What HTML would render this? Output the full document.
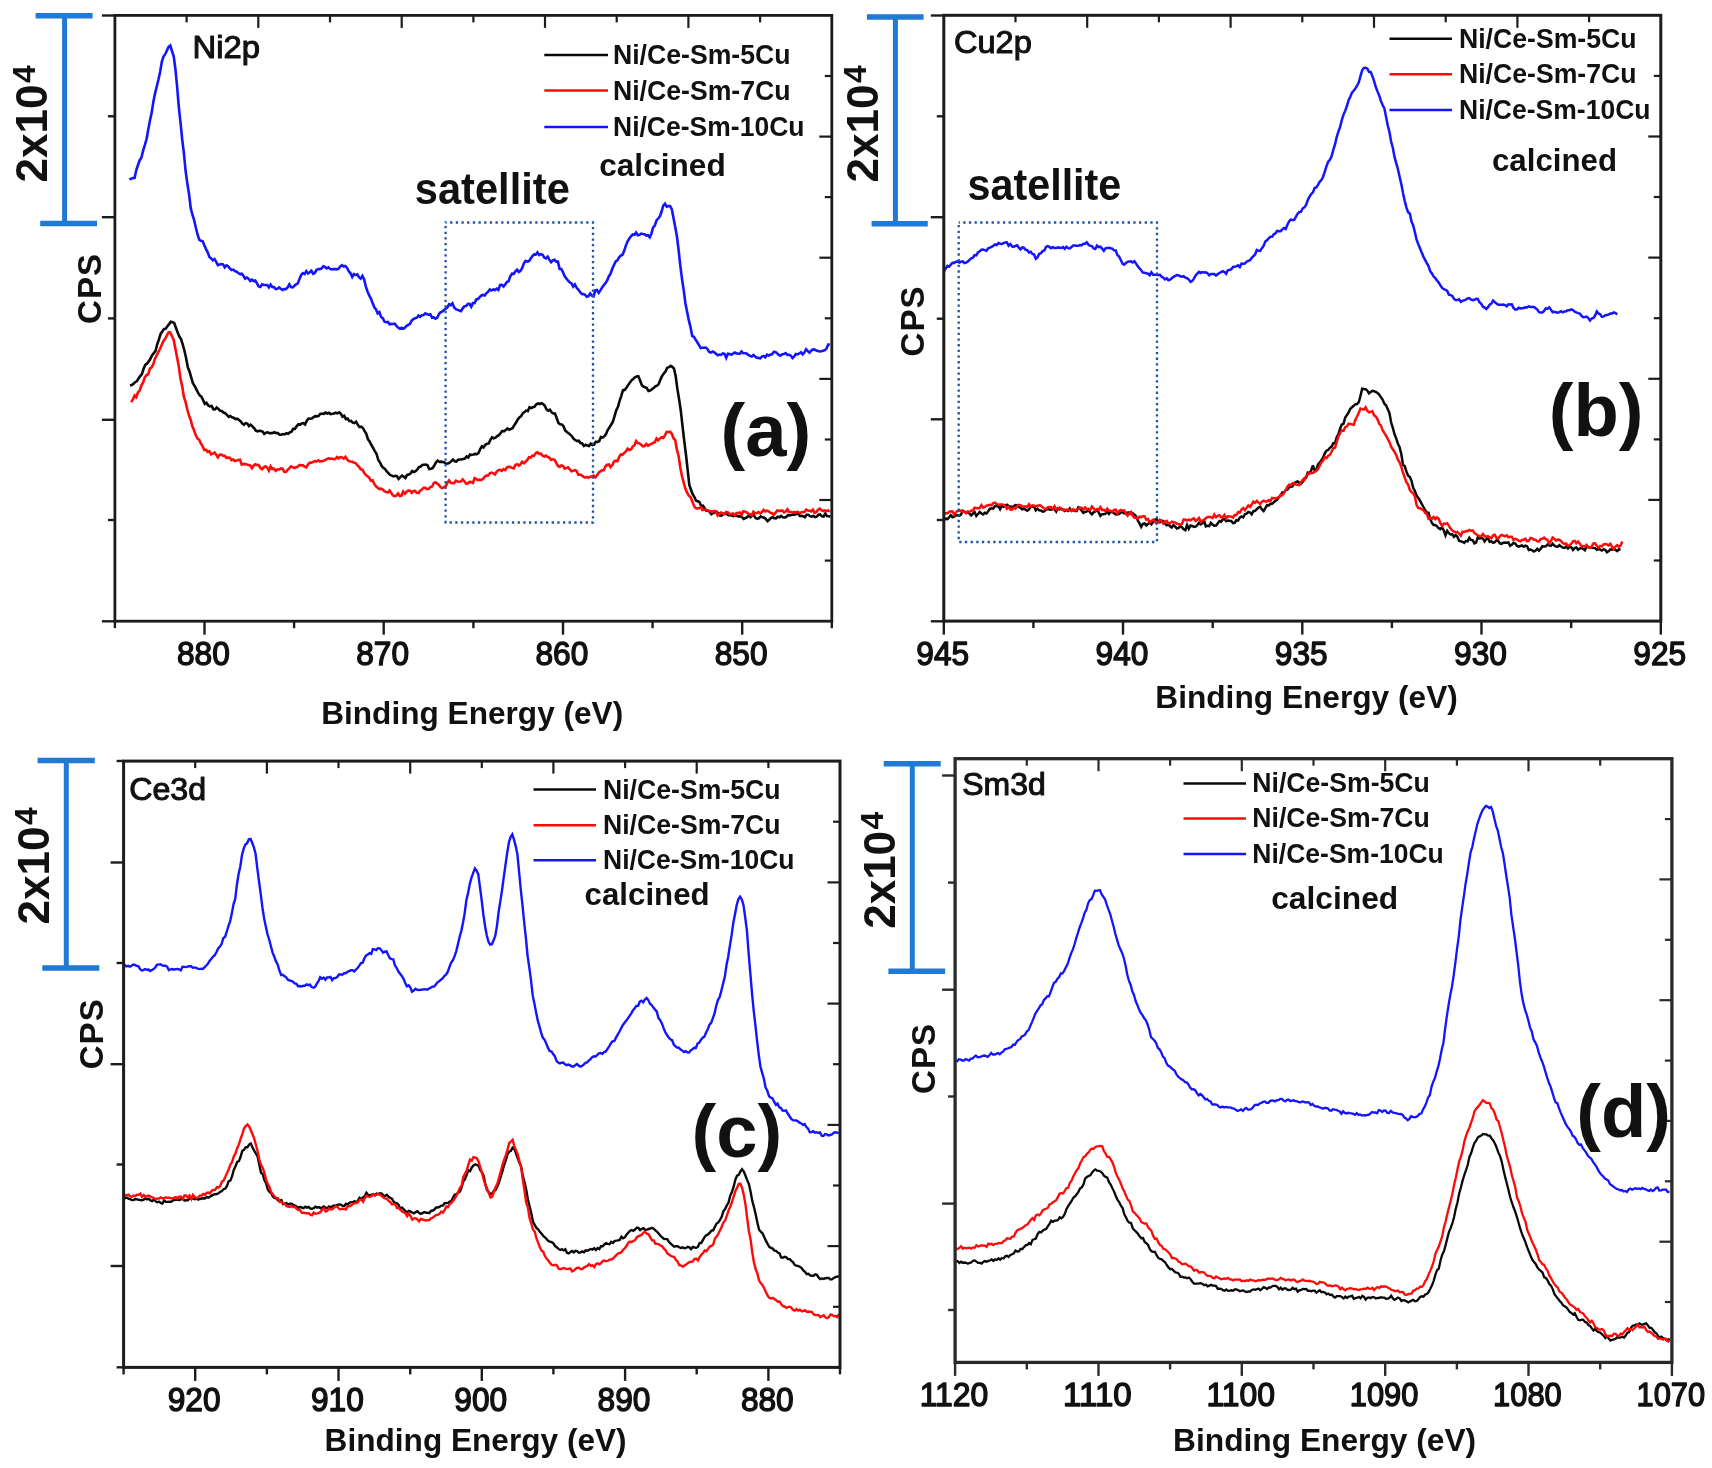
<!DOCTYPE html>
<html lang="en">
<head>
<meta charset="utf-8">
<title>XPS spectra: Ni2p, Cu2p, Ce3d, Sm3d</title>
<style>
html,body{margin:0;padding:0;background:#fff;}
body{width:1712px;height:1468px;overflow:hidden;}
svg{display:block;filter:blur(0.65px);}
svg text{font-family:"Liberation Sans",sans-serif;font-weight:700;fill:#111;}
svg text.m{font-weight:400;stroke:#111;stroke-width:1.05px;stroke-linejoin:round;}
svg text.t{stroke-width:1.4px;}
</style>
</head>
<body>
<svg width="1712" height="1468" viewBox="0 0 1712 1468">
<rect x="0" y="0" width="1712" height="1468" fill="#ffffff"/>
<polyline fill="none" stroke="#0a0a0a" stroke-width="2.6" stroke-linejoin="miter" stroke-miterlimit="3" points="130.0,385.5 131.7,385.1 133.4,383.9 135.1,382.2 136.8,381.3 138.5,378.5 140.2,376.1 141.9,374.2 143.6,368.8 145.3,364.9 147.0,363.5 148.7,361.4 150.4,358.8 152.1,355.2 153.8,353.1 155.5,351.0 157.2,344.3 158.9,339.5 160.6,333.9 162.3,331.4 164.0,329.0 165.7,328.8 167.4,326.2 169.1,324.1 170.8,321.7 172.5,322.2 174.2,322.9 175.9,327.7 177.6,332.4 179.3,336.6 181.0,339.0 182.7,344.4 184.4,350.5 186.1,357.9 187.8,367.1 189.5,371.5 191.2,377.3 192.9,383.3 194.6,385.8 196.3,389.2 198.0,392.6 199.7,395.4 201.4,396.6 203.1,400.1 204.8,403.9 206.5,402.8 208.2,405.4 209.9,406.3 211.6,406.0 213.3,409.2 215.0,409.4 216.7,407.5 218.4,408.9 220.1,410.7 221.8,411.0 223.5,412.6 225.2,413.2 226.9,414.8 228.6,416.9 230.3,416.0 232.0,417.2 233.7,417.7 235.4,419.0 237.1,418.7 238.8,419.8 240.5,421.2 242.2,423.4 243.9,424.8 245.6,423.1 247.3,423.6 249.0,426.1 250.7,424.7 252.4,426.3 254.1,428.1 255.8,430.6 257.5,431.3 259.2,430.8 260.9,431.0 262.6,431.6 264.3,433.9 266.0,432.7 267.7,432.3 269.4,433.2 271.1,433.1 272.8,433.0 274.5,432.2 276.2,433.1 277.9,433.1 279.6,434.7 281.3,434.8 283.0,434.0 284.7,434.4 286.4,433.2 288.1,433.8 289.8,432.4 291.5,431.7 293.2,428.9 294.9,428.9 296.6,426.3 298.3,424.3 300.0,424.8 301.7,423.5 303.4,423.1 305.1,424.4 306.8,420.6 308.5,418.6 310.2,418.7 311.9,418.5 313.6,417.1 315.3,416.1 317.0,416.4 318.7,415.9 320.4,413.7 322.1,413.7 323.8,413.9 325.5,412.6 327.2,413.5 328.9,412.7 330.6,414.1 332.3,413.8 334.0,413.4 335.7,412.7 337.4,413.4 339.1,412.4 340.8,413.6 342.5,416.7 344.2,415.8 345.9,419.2 347.6,418.5 349.3,421.0 351.0,420.8 352.7,422.6 354.4,423.0 356.1,421.7 357.8,424.8 359.5,427.0 361.2,426.7 362.9,428.0 364.6,431.2 366.3,433.9 368.0,439.3 369.7,441.6 371.4,445.0 373.1,447.8 374.8,451.1 376.5,453.7 378.2,459.7 379.9,462.3 381.6,465.9 383.3,467.8 385.0,469.0 386.7,471.4 388.4,473.1 390.1,474.9 391.8,475.6 393.5,476.4 395.2,475.8 396.9,476.2 398.6,478.9 400.3,477.1 402.0,475.7 403.7,476.7 405.4,478.0 407.1,475.0 408.8,474.6 410.5,473.6 412.2,471.1 413.9,472.1 415.6,471.1 417.3,469.5 419.0,467.0 420.7,466.5 422.4,464.9 424.1,464.7 425.8,464.5 427.5,465.2 429.2,469.0 430.9,468.7 432.6,468.1 434.3,465.6 436.0,462.3 437.7,460.6 439.4,461.8 441.1,461.6 442.8,461.9 444.5,462.4 446.2,463.7 447.9,463.5 449.6,462.7 451.3,461.2 453.0,459.6 454.7,461.2 456.4,461.5 458.1,459.7 459.8,459.5 461.5,459.4 463.2,459.0 464.9,458.5 466.6,456.5 468.3,457.4 470.0,454.5 471.7,454.9 473.4,454.5 475.1,453.9 476.8,454.2 478.5,453.2 480.2,449.1 481.9,446.3 483.6,447.4 485.3,444.8 487.0,443.7 488.7,443.6 490.4,439.9 492.1,437.2 493.8,438.3 495.5,437.7 497.2,436.0 498.9,435.1 500.6,433.1 502.3,431.0 504.0,431.3 505.7,430.1 507.4,428.4 509.1,429.7 510.8,429.0 512.5,428.3 514.2,425.4 515.9,422.8 517.6,419.8 519.3,417.4 521.0,416.3 522.7,413.4 524.4,412.1 526.1,410.6 527.8,411.1 529.5,407.3 531.2,408.0 532.9,407.3 534.6,406.6 536.3,404.3 538.0,403.5 539.7,404.0 541.4,403.2 543.1,404.1 544.8,405.7 546.5,409.3 548.2,410.6 549.9,409.7 551.6,412.4 553.3,413.5 555.0,413.6 556.7,418.0 558.4,422.9 560.1,424.2 561.8,424.4 563.5,426.2 565.2,430.4 566.9,432.0 568.6,433.2 570.3,434.7 572.0,436.4 573.7,438.8 575.4,440.2 577.1,441.1 578.8,440.7 580.5,443.1 582.2,443.5 583.9,446.0 585.6,444.8 587.3,445.6 589.0,446.0 590.7,443.7 592.4,445.1 594.1,444.7 595.8,441.9 597.5,441.9 599.2,441.3 600.9,437.1 602.6,437.6 604.3,436.4 606.0,434.1 607.7,430.1 609.4,427.6 611.1,424.7 612.8,422.0 614.5,416.4 616.2,410.3 617.9,407.1 619.6,400.8 621.3,395.8 623.0,390.1 624.7,389.9 626.4,387.8 628.1,385.1 629.8,382.7 631.5,380.3 633.2,378.9 634.9,377.3 636.6,376.4 638.3,376.2 640.0,380.3 641.7,384.9 643.4,386.7 645.1,387.3 646.8,388.0 648.5,390.9 650.2,390.5 651.9,389.3 653.6,388.1 655.3,386.3 657.0,385.6 658.7,384.1 660.4,379.6 662.1,376.0 663.8,373.5 665.5,371.5 667.2,367.8 668.9,367.2 670.6,365.9 672.3,366.9 674.0,368.6 675.7,376.3 677.4,389.0 679.1,399.2 680.8,410.7 682.5,425.8 684.2,440.6 685.9,454.0 687.6,469.3 689.3,484.9 691.0,489.8 692.7,494.2 694.4,497.0 696.1,500.7 697.8,501.3 699.5,502.2 701.2,506.0 702.9,505.7 704.6,508.3 706.3,510.7 708.0,510.7 709.7,511.7 711.4,514.2 713.1,513.0 714.8,512.3 716.5,511.7 718.2,513.2 719.9,515.5 721.6,515.7 723.3,513.8 725.0,513.4 726.7,514.0 728.4,515.2 730.1,515.1 731.8,515.6 733.5,516.1 735.2,515.6 736.9,515.9 738.6,516.4 740.3,516.4 742.0,517.1 743.7,518.9 745.4,518.1 747.1,517.3 748.8,515.4 750.5,517.1 752.2,515.5 753.9,515.4 755.6,518.1 757.3,518.9 759.0,518.1 760.7,516.3 762.4,517.3 764.1,517.6 765.8,518.9 767.5,521.2 769.2,519.7 770.9,518.0 772.6,517.2 774.3,518.2 776.0,518.3 777.7,516.8 779.4,517.3 781.1,515.9 782.8,517.3 784.5,517.5 786.2,517.1 787.9,515.1 789.6,515.4 791.3,515.0 793.0,514.6 794.7,514.7 796.4,513.8 798.1,513.5 799.8,516.0 801.5,515.9 803.2,516.2 804.9,517.3 806.6,514.8 808.3,514.8 810.0,516.2 811.7,516.7 813.4,515.9 815.1,517.1 816.8,516.7 818.5,514.8 820.2,514.5 821.9,516.3 823.6,516.5 825.3,513.7 827.0,516.1 828.7,516.3 830.4,516.6"/>
<polyline fill="none" stroke="#ff0a0a" stroke-width="2.6" stroke-linejoin="miter" stroke-miterlimit="3" points="131.2,402.2 132.9,399.3 134.6,395.5 136.3,397.2 138.0,392.3 139.7,390.6 141.4,385.4 143.1,382.5 144.8,377.3 146.5,375.1 148.2,374.3 149.9,368.6 151.6,367.4 153.3,364.2 155.0,358.7 156.7,355.3 158.4,351.9 160.1,348.8 161.8,344.8 163.5,341.0 165.2,338.9 166.9,335.4 168.6,332.3 170.3,332.4 172.0,336.3 173.7,339.9 175.4,348.7 177.1,357.5 178.8,366.6 180.5,378.7 182.2,386.2 183.9,397.0 185.6,402.1 187.3,409.5 189.0,415.4 190.7,420.0 192.4,426.6 194.1,430.6 195.8,435.3 197.5,438.4 199.2,439.9 200.9,443.3 202.6,446.4 204.3,449.9 206.0,449.9 207.7,451.9 209.4,451.3 211.1,454.3 212.8,453.7 214.5,452.5 216.2,454.8 217.9,457.4 219.6,454.8 221.3,454.6 223.0,455.6 224.7,455.7 226.4,457.9 228.1,457.6 229.8,457.8 231.5,460.1 233.2,459.5 234.9,461.1 236.6,460.4 238.3,460.0 240.0,459.7 241.7,464.6 243.4,463.9 245.1,464.1 246.8,464.5 248.5,465.1 250.2,465.5 251.9,468.2 253.6,465.7 255.3,464.2 257.0,465.0 258.7,465.1 260.4,468.0 262.1,469.2 263.8,467.3 265.5,466.3 267.2,467.7 268.9,470.7 270.6,466.3 272.3,469.0 274.0,468.7 275.7,470.9 277.4,469.3 279.1,469.5 280.8,468.4 282.5,468.6 284.2,471.8 285.9,472.0 287.6,469.9 289.3,468.4 291.0,466.4 292.7,467.3 294.4,467.8 296.1,467.3 297.8,466.7 299.5,464.9 301.2,465.4 302.9,465.4 304.6,466.6 306.3,467.4 308.0,464.6 309.7,462.5 311.4,462.7 313.1,461.9 314.8,461.1 316.5,461.5 318.2,460.3 319.9,461.6 321.6,461.1 323.3,461.0 325.0,460.2 326.7,459.1 328.4,458.3 330.1,458.8 331.8,458.5 333.5,459.2 335.2,459.0 336.9,457.1 338.6,458.3 340.3,457.1 342.0,457.5 343.7,458.6 345.4,456.9 347.1,459.5 348.8,461.1 350.5,461.5 352.2,461.8 353.9,462.6 355.6,463.1 357.3,465.2 359.0,466.8 360.7,469.3 362.4,469.7 364.1,472.7 365.8,474.9 367.5,476.3 369.2,477.7 370.9,480.8 372.6,480.3 374.3,483.9 376.0,486.3 377.7,487.7 379.4,489.1 381.1,488.7 382.8,489.5 384.5,491.4 386.2,492.1 387.9,492.3 389.6,490.5 391.3,493.0 393.0,495.4 394.7,496.1 396.4,495.6 398.1,493.4 399.8,496.0 401.5,495.6 403.2,491.6 404.9,493.7 406.6,491.8 408.3,490.5 410.0,490.7 411.7,492.8 413.4,491.1 415.1,490.9 416.8,492.8 418.5,493.1 420.2,490.6 421.9,489.5 423.6,487.9 425.3,487.9 427.0,489.1 428.7,488.8 430.4,487.1 432.1,486.5 433.8,483.1 435.5,482.3 437.2,483.6 438.9,485.0 440.6,487.3 442.3,488.1 444.0,487.2 445.7,486.2 447.4,482.8 449.1,480.5 450.8,483.0 452.5,483.0 454.2,483.2 455.9,480.7 457.6,481.6 459.3,481.8 461.0,481.4 462.7,479.4 464.4,481.3 466.1,483.6 467.8,483.5 469.5,481.9 471.2,482.1 472.9,482.9 474.6,478.1 476.3,479.1 478.0,480.2 479.7,479.7 481.4,480.0 483.1,478.8 484.8,476.7 486.5,475.6 488.2,475.5 489.9,473.3 491.6,472.6 493.3,473.3 495.0,474.4 496.7,471.5 498.4,470.1 500.1,469.8 501.8,470.9 503.5,469.1 505.2,470.1 506.9,467.3 508.6,466.9 510.3,467.0 512.0,467.9 513.7,468.4 515.4,464.9 517.1,464.2 518.8,465.6 520.5,464.3 522.2,461.7 523.9,463.2 525.6,461.8 527.3,459.9 529.0,457.2 530.7,457.6 532.4,455.5 534.1,455.7 535.8,453.1 537.5,452.3 539.2,453.9 540.9,453.7 542.6,455.7 544.3,456.5 546.0,455.6 547.7,457.1 549.4,457.7 551.1,459.9 552.8,459.3 554.5,459.8 556.2,462.9 557.9,465.9 559.6,466.9 561.3,465.4 563.0,465.8 564.7,468.6 566.4,468.1 568.1,467.4 569.8,469.4 571.5,471.2 573.2,470.7 574.9,470.1 576.6,471.0 578.3,474.7 580.0,474.6 581.7,475.4 583.4,476.6 585.1,477.6 586.8,476.9 588.5,477.8 590.2,476.5 591.9,476.7 593.6,475.7 595.3,477.3 597.0,475.5 598.7,472.6 600.4,471.3 602.1,470.2 603.8,470.2 605.5,466.3 607.2,464.8 608.9,464.5 610.6,467.1 612.3,465.0 614.0,461.5 615.7,460.7 617.4,461.2 619.1,457.2 620.8,454.4 622.5,454.8 624.2,452.9 625.9,451.4 627.6,448.6 629.3,450.0 631.0,449.5 632.7,446.6 634.4,445.2 636.1,441.0 637.8,443.0 639.5,443.4 641.2,444.8 642.9,446.4 644.6,446.0 646.3,443.9 648.0,445.7 649.7,444.6 651.4,443.9 653.1,442.9 654.8,442.2 656.5,438.6 658.2,440.4 659.9,438.5 661.6,437.3 663.3,437.9 665.0,435.3 666.7,431.8 668.4,432.0 670.1,431.8 671.8,433.7 673.5,438.2 675.2,440.1 676.9,449.6 678.6,455.9 680.3,467.5 682.0,476.3 683.7,482.6 685.4,488.8 687.1,492.6 688.8,495.7 690.5,497.1 692.2,501.0 693.9,505.7 695.6,508.0 697.3,508.4 699.0,508.3 700.7,507.2 702.4,510.1 704.1,509.8 705.8,509.8 707.5,510.2 709.2,511.2 710.9,511.2 712.6,511.8 714.3,511.0 716.0,511.6 717.7,515.4 719.4,513.6 721.1,512.5 722.8,513.5 724.5,514.1 726.2,511.9 727.9,512.3 729.6,514.2 731.3,513.9 733.0,513.5 734.7,515.2 736.4,513.0 738.1,513.1 739.8,512.6 741.5,514.9 743.2,511.4 744.9,511.5 746.6,512.3 748.3,513.8 750.0,514.2 751.7,515.2 753.4,511.7 755.1,513.4 756.8,513.0 758.5,512.0 760.2,513.4 761.9,512.0 763.6,509.9 765.3,511.5 767.0,510.7 768.7,511.3 770.4,512.9 772.1,513.2 773.8,514.8 775.5,513.0 777.2,510.5 778.9,510.9 780.6,510.9 782.3,510.4 784.0,512.3 785.7,511.5 787.4,509.3 789.1,512.0 790.8,512.0 792.5,512.2 794.2,512.0 795.9,512.5 797.6,511.8 799.3,513.0 801.0,512.5 802.7,512.0 804.4,512.0 806.1,509.6 807.8,510.4 809.5,510.8 811.2,511.4 812.9,509.6 814.6,512.8 816.3,512.1 818.0,509.7 819.7,508.6 821.4,510.2 823.1,511.0 824.8,510.3 826.5,511.1 828.2,510.5 829.9,511.7"/>
<polyline fill="none" stroke="#1414ff" stroke-width="2.6" stroke-linejoin="miter" stroke-miterlimit="3" points="129.5,179.5 131.2,178.6 132.9,178.1 134.6,177.8 136.3,170.0 138.0,165.0 139.7,160.2 141.4,157.7 143.1,150.6 144.8,145.2 146.5,139.3 148.2,129.9 149.9,120.8 151.6,113.0 153.3,102.2 155.0,93.6 156.7,86.8 158.4,79.8 160.1,71.9 161.8,61.8 163.5,56.5 165.2,54.2 166.9,50.6 168.6,46.8 170.3,45.5 172.0,51.1 173.7,56.4 175.4,68.9 177.1,86.5 178.8,106.8 180.5,122.3 182.2,139.5 183.9,153.2 185.6,171.0 187.3,183.1 189.0,193.8 190.7,207.9 192.4,214.7 194.1,219.9 195.8,227.5 197.5,234.2 199.2,239.6 200.9,240.8 202.6,241.1 204.3,245.2 206.0,249.1 207.7,252.3 209.4,256.9 211.1,258.4 212.8,260.2 214.5,259.0 216.2,261.8 217.9,265.1 219.6,264.6 221.3,264.0 223.0,264.3 224.7,267.3 226.4,265.3 228.1,266.2 229.8,268.4 231.5,270.0 233.2,269.6 234.9,271.1 236.6,271.7 238.3,273.0 240.0,274.0 241.7,273.6 243.4,275.8 245.1,278.6 246.8,277.5 248.5,278.6 250.2,280.9 251.9,279.6 253.6,281.0 255.3,280.5 257.0,283.3 258.7,286.4 260.4,287.0 262.1,284.3 263.8,285.0 265.5,285.0 267.2,285.1 268.9,287.5 270.6,284.7 272.3,287.0 274.0,287.1 275.7,289.1 277.4,288.7 279.1,287.4 280.8,288.7 282.5,289.9 284.2,289.0 285.9,289.1 287.6,287.5 289.3,284.3 291.0,287.1 292.7,287.4 294.4,285.8 296.1,284.3 297.8,283.4 299.5,278.9 301.2,274.9 302.9,273.2 304.6,274.1 306.3,271.2 308.0,273.5 309.7,272.2 311.4,270.7 313.1,273.7 314.8,272.9 316.5,270.0 318.2,269.0 319.9,269.1 321.6,268.5 323.3,266.3 325.0,267.0 326.7,268.4 328.4,267.4 330.1,268.9 331.8,269.5 333.5,269.1 335.2,269.1 336.9,269.4 338.6,268.6 340.3,266.5 342.0,265.2 343.7,266.5 345.4,265.9 347.1,267.9 348.8,271.3 350.5,273.3 352.2,277.0 353.9,274.0 355.6,275.0 357.3,274.4 359.0,277.1 360.7,278.6 362.4,275.9 364.1,279.3 365.8,286.4 367.5,291.5 369.2,295.4 370.9,298.5 372.6,303.1 374.3,307.3 376.0,309.4 377.7,313.5 379.4,312.1 381.1,317.0 382.8,318.1 384.5,321.7 386.2,322.2 387.9,321.9 389.6,324.3 391.3,323.9 393.0,324.0 394.7,323.7 396.4,325.8 398.1,327.6 399.8,328.8 401.5,327.7 403.2,328.8 404.9,327.7 406.6,325.9 408.3,324.9 410.0,323.9 411.7,320.6 413.4,319.0 415.1,318.2 416.8,317.7 418.5,315.6 420.2,316.9 421.9,315.2 423.6,315.1 425.3,313.4 427.0,314.2 428.7,314.7 430.4,314.2 432.1,317.8 433.8,317.4 435.5,318.8 437.2,317.9 438.9,314.2 440.6,312.2 442.3,311.7 444.0,310.0 445.7,308.7 447.4,307.4 449.1,304.3 450.8,305.2 452.5,303.3 454.2,307.5 455.9,309.1 457.6,309.9 459.3,310.5 461.0,311.1 462.7,308.3 464.4,306.3 466.1,306.1 467.8,304.0 469.5,303.9 471.2,306.7 472.9,303.1 474.6,303.0 476.3,299.4 478.0,299.0 479.7,297.2 481.4,295.5 483.1,294.9 484.8,295.5 486.5,293.1 488.2,291.6 489.9,289.4 491.6,290.5 493.3,289.5 495.0,290.0 496.7,288.6 498.4,289.9 500.1,285.0 501.8,284.9 503.5,286.5 505.2,284.4 506.9,282.1 508.6,281.1 510.3,276.4 512.0,273.7 513.7,273.9 515.4,271.4 517.1,269.7 518.8,271.9 520.5,270.8 522.2,267.9 523.9,263.3 525.6,260.9 527.3,261.7 529.0,261.1 530.7,258.5 532.4,256.1 534.1,254.4 535.8,254.7 537.5,252.3 539.2,255.1 540.9,254.2 542.6,254.9 544.3,257.6 546.0,258.5 547.7,256.7 549.4,259.9 551.1,262.2 552.8,260.4 554.5,259.8 556.2,261.6 557.9,261.6 559.6,268.9 561.3,269.0 563.0,272.3 564.7,276.3 566.4,278.5 568.1,280.7 569.8,282.5 571.5,283.4 573.2,286.7 574.9,284.5 576.6,287.8 578.3,289.5 580.0,291.9 581.7,294.0 583.4,294.1 585.1,294.9 586.8,296.8 588.5,296.2 590.2,293.5 591.9,295.6 593.6,296.2 595.3,290.3 597.0,290.0 598.7,292.8 600.4,290.4 602.1,287.6 603.8,285.3 605.5,282.9 607.2,280.5 608.9,276.2 610.6,273.6 612.3,268.6 614.0,265.0 615.7,261.4 617.4,260.3 619.1,257.4 620.8,255.6 622.5,254.8 624.2,250.7 625.9,245.6 627.6,241.3 629.3,238.6 631.0,236.3 632.7,234.4 634.4,234.8 636.1,232.6 637.8,235.3 639.5,234.9 641.2,233.6 642.9,234.0 644.6,234.2 646.3,235.7 648.0,235.3 649.7,237.4 651.4,233.7 653.1,227.4 654.8,225.5 656.5,220.5 658.2,218.5 659.9,216.3 661.6,211.5 663.3,205.6 665.0,203.7 666.7,206.6 668.4,206.1 670.1,206.1 671.8,209.1 673.5,218.0 675.2,227.1 676.9,236.0 678.6,250.2 680.3,265.6 682.0,278.8 683.7,290.1 685.4,303.2 687.1,311.8 688.8,320.1 690.5,327.1 692.2,336.0 693.9,336.8 695.6,339.6 697.3,342.3 699.0,345.2 700.7,348.1 702.4,347.7 704.1,347.8 705.8,347.6 707.5,349.0 709.2,352.0 710.9,352.6 712.6,351.5 714.3,352.4 716.0,353.8 717.7,355.2 719.4,354.5 721.1,354.9 722.8,353.4 724.5,353.8 726.2,357.9 727.9,353.7 729.6,353.9 731.3,354.8 733.0,353.7 734.7,352.5 736.4,353.3 738.1,353.8 739.8,353.8 741.5,351.5 743.2,353.2 744.9,353.2 746.6,353.5 748.3,354.9 750.0,355.9 751.7,356.6 753.4,355.0 755.1,356.5 756.8,357.7 758.5,357.9 760.2,358.4 761.9,356.6 763.6,355.9 765.3,357.3 767.0,354.7 768.7,355.5 770.4,354.8 772.1,354.2 773.8,351.9 775.5,352.0 777.2,353.4 778.9,355.0 780.6,355.6 782.3,354.3 784.0,353.9 785.7,353.1 787.4,354.8 789.1,354.7 790.8,355.7 792.5,358.0 794.2,356.5 795.9,354.0 797.6,354.4 799.3,353.5 801.0,352.3 802.7,354.3 804.4,352.6 806.1,349.2 807.8,351.1 809.5,352.7 811.2,350.7 812.9,349.4 814.6,349.6 816.3,350.5 818.0,351.0 819.7,351.5 821.4,351.3 823.1,350.7 824.8,350.2 826.5,348.6 828.2,344.5 829.9,344.5"/>
<rect x="445.6" y="222.5" width="147.39999999999998" height="300.0" fill="none" stroke="#1f55a2" stroke-width="2.3" stroke-dasharray="2.3 3.37" stroke-dashoffset="1.15"/>
<rect x="114.9" y="15.4" width="716.9" height="605.8000000000001" fill="none" stroke="#1c1c1c" stroke-width="2.8"/>
<line x1="186.6" y1="15.4" x2="186.6" y2="22.4" stroke="#1c1c1c" stroke-width="2.2" />
<line x1="824.8" y1="76.0" x2="831.8" y2="76.0" stroke="#1c1c1c" stroke-width="2.2" />
<line x1="258.3" y1="15.4" x2="258.3" y2="27.9" stroke="#1c1c1c" stroke-width="2.2" />
<line x1="819.3" y1="136.6" x2="831.8" y2="136.6" stroke="#1c1c1c" stroke-width="2.2" />
<line x1="330.0" y1="15.4" x2="330.0" y2="22.4" stroke="#1c1c1c" stroke-width="2.2" />
<line x1="824.8" y1="197.1" x2="831.8" y2="197.1" stroke="#1c1c1c" stroke-width="2.2" />
<line x1="401.7" y1="15.4" x2="401.7" y2="27.9" stroke="#1c1c1c" stroke-width="2.2" />
<line x1="819.3" y1="257.7" x2="831.8" y2="257.7" stroke="#1c1c1c" stroke-width="2.2" />
<line x1="473.4" y1="15.4" x2="473.4" y2="22.4" stroke="#1c1c1c" stroke-width="2.2" />
<line x1="824.8" y1="318.3" x2="831.8" y2="318.3" stroke="#1c1c1c" stroke-width="2.2" />
<line x1="545.0" y1="15.4" x2="545.0" y2="27.9" stroke="#1c1c1c" stroke-width="2.2" />
<line x1="819.3" y1="378.9" x2="831.8" y2="378.9" stroke="#1c1c1c" stroke-width="2.2" />
<line x1="616.7" y1="15.4" x2="616.7" y2="22.4" stroke="#1c1c1c" stroke-width="2.2" />
<line x1="824.8" y1="439.5" x2="831.8" y2="439.5" stroke="#1c1c1c" stroke-width="2.2" />
<line x1="688.4" y1="15.4" x2="688.4" y2="27.9" stroke="#1c1c1c" stroke-width="2.2" />
<line x1="819.3" y1="500.0" x2="831.8" y2="500.0" stroke="#1c1c1c" stroke-width="2.2" />
<line x1="760.1" y1="15.4" x2="760.1" y2="22.4" stroke="#1c1c1c" stroke-width="2.2" />
<line x1="824.8" y1="560.6" x2="831.8" y2="560.6" stroke="#1c1c1c" stroke-width="2.2" />
<line x1="101.9" y1="15.5" x2="114.9" y2="15.5" stroke="#1c1c1c" stroke-width="2.4" />
<line x1="107.9" y1="116.3" x2="114.9" y2="116.3" stroke="#1c1c1c" stroke-width="2.4" />
<line x1="101.9" y1="217.2" x2="114.9" y2="217.2" stroke="#1c1c1c" stroke-width="2.4" />
<line x1="107.9" y1="318.4" x2="114.9" y2="318.4" stroke="#1c1c1c" stroke-width="2.4" />
<line x1="101.9" y1="419.8" x2="114.9" y2="419.8" stroke="#1c1c1c" stroke-width="2.4" />
<line x1="107.9" y1="520.0" x2="114.9" y2="520.0" stroke="#1c1c1c" stroke-width="2.4" />
<line x1="101.9" y1="621.3" x2="114.9" y2="621.3" stroke="#1c1c1c" stroke-width="2.4" />
<line x1="114.9" y1="621.2" x2="114.9" y2="628.2" stroke="#1c1c1c" stroke-width="2.4" />
<line x1="204.5" y1="621.2" x2="204.5" y2="634.7" stroke="#1c1c1c" stroke-width="2.4" />
<text x="203.4" y="664.8" font-size="33.6" text-anchor="middle" textLength="52.8" lengthAdjust="spacingAndGlyphs" class="m t">880</text>
<line x1="294.1" y1="621.2" x2="294.1" y2="628.2" stroke="#1c1c1c" stroke-width="2.4" />
<line x1="383.7" y1="621.2" x2="383.7" y2="634.7" stroke="#1c1c1c" stroke-width="2.4" />
<text x="382.6" y="664.8" font-size="33.6" text-anchor="middle" textLength="52.8" lengthAdjust="spacingAndGlyphs" class="m t">870</text>
<line x1="473.4" y1="621.2" x2="473.4" y2="628.2" stroke="#1c1c1c" stroke-width="2.4" />
<line x1="563.0" y1="621.2" x2="563.0" y2="634.7" stroke="#1c1c1c" stroke-width="2.4" />
<text x="561.9" y="664.8" font-size="33.6" text-anchor="middle" textLength="52.8" lengthAdjust="spacingAndGlyphs" class="m t">860</text>
<line x1="652.6" y1="621.2" x2="652.6" y2="628.2" stroke="#1c1c1c" stroke-width="2.4" />
<line x1="742.2" y1="621.2" x2="742.2" y2="634.7" stroke="#1c1c1c" stroke-width="2.4" />
<text x="741.1" y="664.8" font-size="33.6" text-anchor="middle" textLength="52.8" lengthAdjust="spacingAndGlyphs" class="m t">850</text>
<line x1="831.8" y1="621.2" x2="831.8" y2="628.2" stroke="#1c1c1c" stroke-width="2.4" />
<line x1="64.6" y1="15.7" x2="64.6" y2="223.6" stroke="#2079d2" stroke-width="5" />
<line x1="35.6" y1="15.7" x2="92.6" y2="15.7" stroke="#2079d2" stroke-width="5.5" />
<line x1="40.2" y1="223.6" x2="97.0" y2="223.6" stroke="#2079d2" stroke-width="5.5" />
<text transform="translate(47.3 182.5) rotate(-90)" font-size="44">2x10<tspan font-size="32" dy="-12" dx="1.5">4</tspan></text>
<text transform="translate(101.3 324.0) rotate(-90)" font-size="33" textLength="70.0" lengthAdjust="spacing">CPS</text>
<text x="192.6" y="58.0" font-size="31.6" text-anchor="start" textLength="67.5" lengthAdjust="spacingAndGlyphs" class="m">Ni2p</text>
<line x1="544.3" y1="55.0" x2="608.0" y2="55.0" stroke="#0a0a0a" stroke-width="2.4" />
<text x="613.0" y="63.8" font-size="28" text-anchor="start" textLength="177.5" lengthAdjust="spacingAndGlyphs">Ni/Ce-Sm-5Cu</text>
<line x1="544.3" y1="90.5" x2="608.0" y2="90.5" stroke="#ff0a0a" stroke-width="2.4" />
<text x="613.0" y="99.5" font-size="28" text-anchor="start" textLength="177.5" lengthAdjust="spacingAndGlyphs">Ni/Ce-Sm-7Cu</text>
<line x1="544.3" y1="127.0" x2="608.0" y2="127.0" stroke="#1414ff" stroke-width="2.4" />
<text x="613.0" y="135.5" font-size="28" text-anchor="start" textLength="191.5" lengthAdjust="spacingAndGlyphs">Ni/Ce-Sm-10Cu</text>
<text x="599.2" y="176.3" font-size="31.8" text-anchor="start" textLength="126.5" lengthAdjust="spacingAndGlyphs">calcined</text>
<text x="414.8" y="203.8" font-size="43.5" text-anchor="start" textLength="155.0" lengthAdjust="spacingAndGlyphs">satellite</text>
<text x="720.5" y="455.5" font-size="74.2" text-anchor="start">(a)</text>
<text x="321.2" y="723.8" font-size="32.2" text-anchor="start" textLength="302.0" lengthAdjust="spacingAndGlyphs">Binding Energy (eV)</text>
<polyline fill="none" stroke="#0a0a0a" stroke-width="2.5" stroke-linejoin="miter" stroke-miterlimit="3" points="944.0,520.3 945.7,518.7 947.4,519.2 949.1,517.3 950.8,515.2 952.5,517.2 954.2,516.6 955.9,515.1 957.6,515.4 959.3,515.6 961.0,514.6 962.7,510.8 964.4,511.8 966.1,512.9 967.8,512.3 969.5,513.6 971.2,515.4 972.9,513.6 974.6,512.1 976.3,515.9 978.0,514.0 979.7,512.0 981.4,513.5 983.1,514.4 984.8,512.8 986.5,513.5 988.2,511.3 989.9,508.7 991.6,508.5 993.3,508.5 995.0,506.0 996.7,506.3 998.4,505.9 1000.1,509.2 1001.8,505.7 1003.5,506.7 1005.2,505.6 1006.9,504.8 1008.6,505.9 1010.3,506.5 1012.0,507.2 1013.7,506.4 1015.4,505.1 1017.1,505.2 1018.8,506.9 1020.5,507.8 1022.2,509.3 1023.9,508.8 1025.6,509.6 1027.3,510.7 1029.0,509.4 1030.7,506.9 1032.4,506.7 1034.1,506.6 1035.8,510.4 1037.5,508.7 1039.2,510.3 1040.9,510.5 1042.6,511.7 1044.3,511.3 1046.0,509.6 1047.7,509.1 1049.4,509.5 1051.1,509.7 1052.8,508.9 1054.5,509.3 1056.2,511.6 1057.9,508.2 1059.6,509.3 1061.3,508.7 1063.0,509.6 1064.7,511.0 1066.4,510.2 1068.1,510.9 1069.8,508.4 1071.5,510.9 1073.2,509.9 1074.9,510.9 1076.6,510.9 1078.3,507.3 1080.0,508.5 1081.7,510.7 1083.4,512.9 1085.1,512.0 1086.8,511.5 1088.5,509.5 1090.2,512.5 1091.9,514.3 1093.6,512.3 1095.3,511.4 1097.0,509.6 1098.7,512.4 1100.4,515.9 1102.1,514.2 1103.8,514.2 1105.5,513.7 1107.2,511.6 1108.9,514.0 1110.6,511.8 1112.3,512.2 1114.0,513.3 1115.7,514.4 1117.4,514.2 1119.1,514.1 1120.8,512.8 1122.5,511.8 1124.2,513.5 1125.9,513.3 1127.6,512.4 1129.3,512.5 1131.0,513.8 1132.7,513.2 1134.4,514.6 1136.1,516.3 1137.8,520.5 1139.5,523.4 1141.2,526.9 1142.9,523.9 1144.6,523.4 1146.3,525.4 1148.0,524.0 1149.7,522.6 1151.4,524.4 1153.1,522.1 1154.8,519.7 1156.5,519.1 1158.2,521.3 1159.9,522.3 1161.6,520.6 1163.3,521.0 1165.0,523.7 1166.7,525.2 1168.4,524.4 1170.1,526.2 1171.8,527.4 1173.5,525.1 1175.2,526.6 1176.9,528.6 1178.6,528.0 1180.3,525.8 1182.0,527.4 1183.7,529.2 1185.4,530.2 1187.1,525.0 1188.8,528.9 1190.5,525.5 1192.2,526.0 1193.9,526.9 1195.6,526.5 1197.3,525.1 1199.0,522.9 1200.7,524.5 1202.4,523.4 1204.1,520.4 1205.8,526.3 1207.5,525.7 1209.2,526.1 1210.9,522.9 1212.6,524.7 1214.3,525.7 1216.0,525.6 1217.7,523.4 1219.4,521.1 1221.1,521.7 1222.8,519.4 1224.5,519.0 1226.2,521.3 1227.9,520.5 1229.6,520.8 1231.3,521.0 1233.0,523.2 1234.7,522.8 1236.4,520.2 1238.1,520.5 1239.8,517.7 1241.5,516.5 1243.2,517.4 1244.9,514.3 1246.6,513.7 1248.3,511.9 1250.0,512.5 1251.7,514.3 1253.4,511.2 1255.1,510.8 1256.8,509.1 1258.5,507.6 1260.2,506.7 1261.9,509.5 1263.6,511.0 1265.3,508.2 1267.0,505.1 1268.7,505.5 1270.4,503.8 1272.1,503.7 1273.8,502.3 1275.5,500.8 1277.2,499.9 1278.9,497.2 1280.6,495.5 1282.3,492.5 1284.0,492.2 1285.7,490.0 1287.4,489.6 1289.1,487.4 1290.8,486.9 1292.5,486.5 1294.2,483.1 1295.9,482.2 1297.6,481.4 1299.3,482.6 1301.0,483.6 1302.7,481.7 1304.4,478.3 1306.1,478.0 1307.8,472.7 1309.5,473.3 1311.2,470.3 1312.9,465.5 1314.6,470.5 1316.3,470.1 1318.0,464.5 1319.7,462.7 1321.4,460.2 1323.1,457.8 1324.8,453.2 1326.5,450.7 1328.2,450.0 1329.9,447.8 1331.6,446.6 1333.3,443.2 1335.0,443.1 1336.7,437.3 1338.4,434.3 1340.1,428.6 1341.8,424.5 1343.5,423.9 1345.2,417.6 1346.9,415.1 1348.6,412.4 1350.3,408.7 1352.0,407.3 1353.7,405.8 1355.4,404.2 1357.1,404.1 1358.8,402.2 1360.5,395.7 1362.2,388.8 1363.9,389.1 1365.6,389.2 1367.3,390.6 1369.0,393.4 1370.7,392.0 1372.4,390.8 1374.1,391.3 1375.8,391.9 1377.5,393.1 1379.2,394.6 1380.9,397.1 1382.6,399.5 1384.3,403.5 1386.0,405.3 1387.7,408.9 1389.4,412.8 1391.1,422.3 1392.8,427.8 1394.5,434.2 1396.2,438.3 1397.9,443.8 1399.6,447.1 1401.3,454.0 1403.0,464.7 1404.7,466.0 1406.4,471.4 1408.1,475.7 1409.8,476.9 1411.5,480.8 1413.2,487.9 1414.9,491.0 1416.6,495.6 1418.3,497.9 1420.0,500.7 1421.7,503.8 1423.4,507.0 1425.1,510.0 1426.8,512.7 1428.5,512.7 1430.2,519.1 1431.9,522.9 1433.6,525.0 1435.3,525.1 1437.0,526.2 1438.7,528.2 1440.4,529.2 1442.1,527.3 1443.8,530.5 1445.5,535.3 1447.2,530.8 1448.9,533.2 1450.6,534.4 1452.3,534.3 1454.0,536.8 1455.7,535.1 1457.4,536.8 1459.1,540.9 1460.8,541.2 1462.5,541.8 1464.2,542.9 1465.9,541.0 1467.6,541.3 1469.3,537.8 1471.0,540.0 1472.7,540.1 1474.4,543.3 1476.1,542.6 1477.8,537.4 1479.5,538.5 1481.2,538.1 1482.9,538.5 1484.6,541.5 1486.3,539.1 1488.0,538.2 1489.7,541.7 1491.4,541.3 1493.1,542.8 1494.8,542.1 1496.5,540.2 1498.2,541.0 1499.9,543.3 1501.6,543.8 1503.3,542.7 1505.0,542.6 1506.7,542.8 1508.4,542.4 1510.1,545.8 1511.8,544.8 1513.5,542.8 1515.2,543.5 1516.9,545.8 1518.6,546.6 1520.3,546.0 1522.0,545.5 1523.7,546.8 1525.4,545.7 1527.1,546.3 1528.8,550.0 1530.5,549.6 1532.2,550.3 1533.9,551.5 1535.6,550.6 1537.3,548.8 1539.0,550.6 1540.7,548.8 1542.4,546.2 1544.1,546.6 1545.8,546.4 1547.5,544.6 1549.2,545.4 1550.9,545.8 1552.6,543.7 1554.3,545.6 1556.0,546.6 1557.7,546.7 1559.4,545.2 1561.1,546.5 1562.8,547.6 1564.5,548.0 1566.2,546.5 1567.9,548.4 1569.6,546.8 1571.3,547.4 1573.0,549.9 1574.7,548.0 1576.4,547.4 1578.1,549.7 1579.8,548.5 1581.5,548.1 1583.2,548.9 1584.9,550.3 1586.6,546.5 1588.3,547.0 1590.0,547.5 1591.7,547.5 1593.4,547.9 1595.1,548.1 1596.8,549.8 1598.5,548.8 1600.2,549.7 1601.9,550.6 1603.6,549.2 1605.3,549.9 1607.0,552.2 1608.7,551.1 1610.4,549.3 1612.1,549.6 1613.8,548.8 1615.5,550.0 1617.2,551.2 1618.9,549.3 1620.6,549.4"/>
<polyline fill="none" stroke="#ff0a0a" stroke-width="2.5" stroke-linejoin="miter" stroke-miterlimit="3" points="944.0,514.2 945.7,513.3 947.4,513.3 949.1,511.8 950.8,511.3 952.5,511.5 954.2,514.8 955.9,512.4 957.6,510.9 959.3,510.6 961.0,510.8 962.7,511.8 964.4,511.3 966.1,513.2 967.8,511.4 969.5,511.9 971.2,510.7 972.9,510.3 974.6,507.6 976.3,508.1 978.0,508.4 979.7,507.9 981.4,505.1 983.1,507.7 984.8,506.9 986.5,505.7 988.2,505.3 989.9,504.9 991.6,505.3 993.3,503.0 995.0,502.6 996.7,504.2 998.4,504.8 1000.1,504.5 1001.8,504.6 1003.5,504.8 1005.2,506.3 1006.9,508.8 1008.6,506.9 1010.3,509.5 1012.0,509.7 1013.7,507.7 1015.4,508.7 1017.1,506.2 1018.8,504.8 1020.5,505.2 1022.2,506.3 1023.9,506.7 1025.6,506.4 1027.3,507.0 1029.0,504.3 1030.7,506.7 1032.4,505.4 1034.1,505.6 1035.8,506.4 1037.5,505.6 1039.2,505.2 1040.9,505.7 1042.6,507.3 1044.3,508.7 1046.0,509.1 1047.7,507.3 1049.4,507.0 1051.1,507.1 1052.8,508.9 1054.5,506.3 1056.2,509.5 1057.9,508.7 1059.6,507.5 1061.3,508.8 1063.0,510.2 1064.7,509.6 1066.4,510.2 1068.1,509.4 1069.8,510.4 1071.5,510.9 1073.2,509.2 1074.9,510.5 1076.6,509.6 1078.3,508.9 1080.0,507.6 1081.7,508.0 1083.4,509.7 1085.1,507.5 1086.8,509.2 1088.5,509.8 1090.2,509.7 1091.9,506.6 1093.6,508.4 1095.3,510.4 1097.0,509.1 1098.7,509.7 1100.4,507.1 1102.1,510.1 1103.8,509.8 1105.5,511.3 1107.2,508.6 1108.9,510.7 1110.6,510.7 1112.3,511.7 1114.0,510.0 1115.7,509.7 1117.4,513.6 1119.1,511.0 1120.8,510.0 1122.5,510.8 1124.2,510.4 1125.9,513.5 1127.6,515.7 1129.3,513.5 1131.0,511.9 1132.7,515.9 1134.4,517.7 1136.1,517.8 1137.8,518.6 1139.5,516.6 1141.2,517.1 1142.9,516.3 1144.6,516.2 1146.3,519.7 1148.0,519.0 1149.7,522.4 1151.4,521.1 1153.1,519.6 1154.8,521.3 1156.5,523.5 1158.2,522.4 1159.9,519.9 1161.6,521.4 1163.3,523.6 1165.0,521.8 1166.7,520.9 1168.4,523.4 1170.1,523.3 1171.8,521.7 1173.5,522.3 1175.2,522.4 1176.9,523.8 1178.6,524.0 1180.3,524.8 1182.0,523.7 1183.7,519.4 1185.4,519.7 1187.1,520.3 1188.8,519.7 1190.5,520.4 1192.2,519.0 1193.9,518.3 1195.6,521.0 1197.3,519.8 1199.0,517.9 1200.7,521.6 1202.4,520.6 1204.1,520.0 1205.8,518.2 1207.5,517.2 1209.2,516.7 1210.9,517.2 1212.6,518.0 1214.3,514.6 1216.0,517.2 1217.7,515.9 1219.4,515.2 1221.1,517.4 1222.8,517.1 1224.5,514.8 1226.2,518.4 1227.9,516.3 1229.6,516.4 1231.3,516.6 1233.0,517.6 1234.7,514.9 1236.4,514.9 1238.1,512.1 1239.8,512.5 1241.5,509.6 1243.2,508.1 1244.9,510.1 1246.6,507.7 1248.3,505.5 1250.0,506.9 1251.7,504.5 1253.4,501.6 1255.1,502.9 1256.8,500.9 1258.5,502.9 1260.2,503.9 1261.9,501.6 1263.6,500.7 1265.3,501.6 1267.0,501.5 1268.7,500.0 1270.4,501.2 1272.1,498.0 1273.8,498.3 1275.5,498.3 1277.2,497.7 1278.9,497.6 1280.6,494.9 1282.3,495.1 1284.0,493.0 1285.7,490.0 1287.4,486.8 1289.1,484.8 1290.8,485.3 1292.5,483.2 1294.2,483.4 1295.9,484.6 1297.6,484.7 1299.3,485.0 1301.0,482.3 1302.7,479.8 1304.4,480.1 1306.1,476.1 1307.8,474.7 1309.5,472.7 1311.2,473.2 1312.9,472.8 1314.6,471.9 1316.3,470.8 1318.0,469.0 1319.7,465.8 1321.4,462.4 1323.1,460.6 1324.8,457.2 1326.5,458.2 1328.2,455.7 1329.9,454.9 1331.6,451.8 1333.3,448.1 1335.0,447.7 1336.7,442.2 1338.4,436.6 1340.1,433.2 1341.8,430.4 1343.5,430.8 1345.2,427.2 1346.9,426.4 1348.6,423.6 1350.3,424.0 1352.0,424.4 1353.7,425.0 1355.4,419.8 1357.1,416.5 1358.8,412.8 1360.5,408.5 1362.2,409.1 1363.9,409.6 1365.6,407.3 1367.3,410.7 1369.0,412.4 1370.7,411.8 1372.4,411.1 1374.1,415.4 1375.8,416.4 1377.5,419.3 1379.2,423.8 1380.9,425.4 1382.6,430.3 1384.3,432.8 1386.0,435.7 1387.7,438.8 1389.4,441.9 1391.1,446.6 1392.8,449.2 1394.5,451.8 1396.2,455.1 1397.9,459.6 1399.6,462.2 1401.3,466.7 1403.0,472.8 1404.7,477.5 1406.4,482.1 1408.1,484.5 1409.8,489.8 1411.5,492.1 1413.2,493.3 1414.9,496.4 1416.6,505.1 1418.3,508.0 1420.0,508.3 1421.7,509.4 1423.4,510.2 1425.1,512.9 1426.8,513.9 1428.5,518.8 1430.2,517.9 1431.9,518.9 1433.6,516.9 1435.3,519.2 1437.0,517.5 1438.7,518.8 1440.4,523.2 1442.1,526.0 1443.8,523.6 1445.5,523.9 1447.2,523.2 1448.9,525.9 1450.6,528.6 1452.3,530.6 1454.0,531.7 1455.7,532.2 1457.4,532.1 1459.1,533.7 1460.8,535.6 1462.5,531.7 1464.2,532.0 1465.9,531.1 1467.6,531.3 1469.3,529.9 1471.0,530.7 1472.7,530.4 1474.4,533.0 1476.1,534.3 1477.8,535.1 1479.5,536.5 1481.2,536.1 1482.9,534.1 1484.6,536.3 1486.3,536.8 1488.0,536.2 1489.7,537.4 1491.4,538.2 1493.1,535.4 1494.8,534.8 1496.5,537.9 1498.2,538.8 1499.9,536.1 1501.6,534.9 1503.3,535.6 1505.0,536.4 1506.7,535.4 1508.4,537.4 1510.1,536.8 1511.8,536.7 1513.5,539.8 1515.2,538.9 1516.9,539.3 1518.6,540.6 1520.3,541.3 1522.0,539.9 1523.7,539.8 1525.4,538.7 1527.1,541.3 1528.8,540.8 1530.5,537.9 1532.2,538.4 1533.9,539.7 1535.6,539.7 1537.3,541.3 1539.0,541.4 1540.7,538.9 1542.4,538.7 1544.1,537.5 1545.8,539.1 1547.5,539.9 1549.2,543.3 1550.9,541.2 1552.6,537.6 1554.3,538.7 1556.0,540.6 1557.7,539.5 1559.4,539.7 1561.1,541.1 1562.8,543.2 1564.5,543.8 1566.2,543.6 1567.9,546.0 1569.6,545.1 1571.3,543.7 1573.0,541.4 1574.7,541.0 1576.4,543.2 1578.1,541.6 1579.8,543.7 1581.5,546.4 1583.2,546.0 1584.9,546.4 1586.6,544.9 1588.3,547.3 1590.0,547.9 1591.7,546.5 1593.4,543.5 1595.1,543.3 1596.8,546.0 1598.5,547.6 1600.2,545.9 1601.9,546.4 1603.6,544.3 1605.3,544.0 1607.0,544.4 1608.7,545.4 1610.4,543.7 1612.1,546.8 1613.8,549.1 1615.5,546.5 1617.2,545.2 1618.9,546.8 1620.6,545.4 1622.3,541.5"/>
<polyline fill="none" stroke="#1414ff" stroke-width="2.5" stroke-linejoin="miter" stroke-miterlimit="3" points="944.0,271.1 945.7,268.5 947.4,265.8 949.1,266.7 950.8,264.6 952.5,262.7 954.2,262.9 955.9,261.8 957.6,261.5 959.3,262.5 961.0,261.8 962.7,261.3 964.4,263.1 966.1,262.6 967.8,261.5 969.5,259.9 971.2,258.3 972.9,257.7 974.6,255.1 976.3,255.4 978.0,252.4 979.7,251.3 981.4,249.7 983.1,249.6 984.8,250.1 986.5,250.7 988.2,248.3 989.9,247.7 991.6,246.9 993.3,245.8 995.0,244.5 996.7,245.0 998.4,243.0 1000.1,243.7 1001.8,243.9 1003.5,243.1 1005.2,242.6 1006.9,242.4 1008.6,245.7 1010.3,244.1 1012.0,246.3 1013.7,246.8 1015.4,245.9 1017.1,245.3 1018.8,247.6 1020.5,249.4 1022.2,247.4 1023.9,247.7 1025.6,249.8 1027.3,250.2 1029.0,252.4 1030.7,251.8 1032.4,254.0 1034.1,254.5 1035.8,258.7 1037.5,257.4 1039.2,253.9 1040.9,253.2 1042.6,251.1 1044.3,250.5 1046.0,247.0 1047.7,246.1 1049.4,246.9 1051.1,248.2 1052.8,247.2 1054.5,248.0 1056.2,248.1 1057.9,247.4 1059.6,247.7 1061.3,248.0 1063.0,247.1 1064.7,248.9 1066.4,246.8 1068.1,248.2 1069.8,248.5 1071.5,247.0 1073.2,245.5 1074.9,245.4 1076.6,245.7 1078.3,245.8 1080.0,245.0 1081.7,245.2 1083.4,243.7 1085.1,243.8 1086.8,242.4 1088.5,244.7 1090.2,245.8 1091.9,246.1 1093.6,248.4 1095.3,249.0 1097.0,245.5 1098.7,247.1 1100.4,246.6 1102.1,248.6 1103.8,250.8 1105.5,248.3 1107.2,247.9 1108.9,247.8 1110.6,248.3 1112.3,248.7 1114.0,250.3 1115.7,250.4 1117.4,255.1 1119.1,256.6 1120.8,260.0 1122.5,263.7 1124.2,264.7 1125.9,262.9 1127.6,261.9 1129.3,261.4 1131.0,261.2 1132.7,262.4 1134.4,261.2 1136.1,263.6 1137.8,266.3 1139.5,268.4 1141.2,270.2 1142.9,272.6 1144.6,272.7 1146.3,273.3 1148.0,273.7 1149.7,275.2 1151.4,272.4 1153.1,274.8 1154.8,274.8 1156.5,274.8 1158.2,274.9 1159.9,274.7 1161.6,276.7 1163.3,277.7 1165.0,279.4 1166.7,278.2 1168.4,280.3 1170.1,279.7 1171.8,278.2 1173.5,276.8 1175.2,275.9 1176.9,275.1 1178.6,275.4 1180.3,276.3 1182.0,276.8 1183.7,276.2 1185.4,277.7 1187.1,278.2 1188.8,279.6 1190.5,281.9 1192.2,281.0 1193.9,278.7 1195.6,275.5 1197.3,273.6 1199.0,271.9 1200.7,273.0 1202.4,272.0 1204.1,272.4 1205.8,272.3 1207.5,273.2 1209.2,275.2 1210.9,274.0 1212.6,274.1 1214.3,274.0 1216.0,275.6 1217.7,274.1 1219.4,273.0 1221.1,272.1 1222.8,271.2 1224.5,272.1 1226.2,273.9 1227.9,270.1 1229.6,270.0 1231.3,269.2 1233.0,267.0 1234.7,266.7 1236.4,266.4 1238.1,265.4 1239.8,267.1 1241.5,263.5 1243.2,263.7 1244.9,263.6 1246.6,261.7 1248.3,260.8 1250.0,260.2 1251.7,257.9 1253.4,256.1 1255.1,254.5 1256.8,250.0 1258.5,250.8 1260.2,251.0 1261.9,248.2 1263.6,245.9 1265.3,241.6 1267.0,240.3 1268.7,238.3 1270.4,236.7 1272.1,236.8 1273.8,234.3 1275.5,233.3 1277.2,230.9 1278.9,231.2 1280.6,231.2 1282.3,229.5 1284.0,228.1 1285.7,229.0 1287.4,224.7 1289.1,221.5 1290.8,219.6 1292.5,219.9 1294.2,219.8 1295.9,216.8 1297.6,213.7 1299.3,212.0 1301.0,211.8 1302.7,208.3 1304.4,207.4 1306.1,205.0 1307.8,200.0 1309.5,196.7 1311.2,194.0 1312.9,192.4 1314.6,188.0 1316.3,187.5 1318.0,184.9 1319.7,181.8 1321.4,180.0 1323.1,176.7 1324.8,171.7 1326.5,166.1 1328.2,161.7 1329.9,159.8 1331.6,156.4 1333.3,149.8 1335.0,144.5 1336.7,137.1 1338.4,131.6 1340.1,126.9 1341.8,120.2 1343.5,114.6 1345.2,110.9 1346.9,106.0 1348.6,100.1 1350.3,96.7 1352.0,92.5 1353.7,90.8 1355.4,88.4 1357.1,85.7 1358.8,82.4 1360.5,76.2 1362.2,70.2 1363.9,67.9 1365.6,67.7 1367.3,68.7 1369.0,71.9 1370.7,72.0 1372.4,76.1 1374.1,81.2 1375.8,87.0 1377.5,91.4 1379.2,95.5 1380.9,101.0 1382.6,105.0 1384.3,108.1 1386.0,116.6 1387.7,125.2 1389.4,131.7 1391.1,141.5 1392.8,147.7 1394.5,156.9 1396.2,163.2 1397.9,169.1 1399.6,176.8 1401.3,184.1 1403.0,193.0 1404.7,200.8 1406.4,207.3 1408.1,212.2 1409.8,213.5 1411.5,221.5 1413.2,225.5 1414.9,232.3 1416.6,239.6 1418.3,244.3 1420.0,248.3 1421.7,252.6 1423.4,256.6 1425.1,259.9 1426.8,263.1 1428.5,266.0 1430.2,271.1 1431.9,273.4 1433.6,276.6 1435.3,278.2 1437.0,280.5 1438.7,282.6 1440.4,285.3 1442.1,287.9 1443.8,289.2 1445.5,289.8 1447.2,290.9 1448.9,294.7 1450.6,295.1 1452.3,295.9 1454.0,298.9 1455.7,300.1 1457.4,300.1 1459.1,299.3 1460.8,301.8 1462.5,300.8 1464.2,300.3 1465.9,299.7 1467.6,298.3 1469.3,298.0 1471.0,299.7 1472.7,300.3 1474.4,299.8 1476.1,298.8 1477.8,298.9 1479.5,302.2 1481.2,303.7 1482.9,306.7 1484.6,307.5 1486.3,309.0 1488.0,307.2 1489.7,304.7 1491.4,303.5 1493.1,300.5 1494.8,302.2 1496.5,303.4 1498.2,304.7 1499.9,304.8 1501.6,304.8 1503.3,304.6 1505.0,305.1 1506.7,306.3 1508.4,304.3 1510.1,304.5 1511.8,304.4 1513.5,307.9 1515.2,309.5 1516.9,309.5 1518.6,307.8 1520.3,308.5 1522.0,308.2 1523.7,308.0 1525.4,307.3 1527.1,307.4 1528.8,306.3 1530.5,307.0 1532.2,306.9 1533.9,306.9 1535.6,308.3 1537.3,309.6 1539.0,312.2 1540.7,312.4 1542.4,312.5 1544.1,311.0 1545.8,308.2 1547.5,308.9 1549.2,307.3 1550.9,309.6 1552.6,312.2 1554.3,311.9 1556.0,312.3 1557.7,312.7 1559.4,312.2 1561.1,311.2 1562.8,312.4 1564.5,311.5 1566.2,311.2 1567.9,310.2 1569.6,310.3 1571.3,309.4 1573.0,310.0 1574.7,311.6 1576.4,312.4 1578.1,313.1 1579.8,313.6 1581.5,315.8 1583.2,317.2 1584.9,317.0 1586.6,316.6 1588.3,318.0 1590.0,320.5 1591.7,318.5 1593.4,317.9 1595.1,315.6 1596.8,311.4 1598.5,313.5 1600.2,314.3 1601.9,316.9 1603.6,316.4 1605.3,315.2 1607.0,314.9 1608.7,314.6 1610.4,313.4 1612.1,313.5 1613.8,312.4 1615.5,313.1 1617.2,314.4"/>
<rect x="958.7" y="222.5" width="198.29999999999995" height="319.5" fill="none" stroke="#1f55a2" stroke-width="2.3" stroke-dasharray="2.3 3.37" stroke-dashoffset="1.15"/>
<rect x="943.8" y="15.3" width="717.0" height="605.8000000000001" fill="none" stroke="#1c1c1c" stroke-width="3"/>
<line x1="1015.5" y1="15.3" x2="1015.5" y2="22.3" stroke="#1c1c1c" stroke-width="2.2" />
<line x1="1653.8" y1="75.9" x2="1660.8" y2="75.9" stroke="#1c1c1c" stroke-width="2.2" />
<line x1="1087.2" y1="15.3" x2="1087.2" y2="27.8" stroke="#1c1c1c" stroke-width="2.2" />
<line x1="1648.3" y1="136.5" x2="1660.8" y2="136.5" stroke="#1c1c1c" stroke-width="2.2" />
<line x1="1158.9" y1="15.3" x2="1158.9" y2="22.3" stroke="#1c1c1c" stroke-width="2.2" />
<line x1="1653.8" y1="197.0" x2="1660.8" y2="197.0" stroke="#1c1c1c" stroke-width="2.2" />
<line x1="1230.6" y1="15.3" x2="1230.6" y2="27.8" stroke="#1c1c1c" stroke-width="2.2" />
<line x1="1648.3" y1="257.6" x2="1660.8" y2="257.6" stroke="#1c1c1c" stroke-width="2.2" />
<line x1="1302.3" y1="15.3" x2="1302.3" y2="22.3" stroke="#1c1c1c" stroke-width="2.2" />
<line x1="1653.8" y1="318.2" x2="1660.8" y2="318.2" stroke="#1c1c1c" stroke-width="2.2" />
<line x1="1374.0" y1="15.3" x2="1374.0" y2="27.8" stroke="#1c1c1c" stroke-width="2.2" />
<line x1="1648.3" y1="378.8" x2="1660.8" y2="378.8" stroke="#1c1c1c" stroke-width="2.2" />
<line x1="1445.7" y1="15.3" x2="1445.7" y2="22.3" stroke="#1c1c1c" stroke-width="2.2" />
<line x1="1653.8" y1="439.4" x2="1660.8" y2="439.4" stroke="#1c1c1c" stroke-width="2.2" />
<line x1="1517.4" y1="15.3" x2="1517.4" y2="27.8" stroke="#1c1c1c" stroke-width="2.2" />
<line x1="1648.3" y1="499.9" x2="1660.8" y2="499.9" stroke="#1c1c1c" stroke-width="2.2" />
<line x1="1589.1" y1="15.3" x2="1589.1" y2="22.3" stroke="#1c1c1c" stroke-width="2.2" />
<line x1="1653.8" y1="560.5" x2="1660.8" y2="560.5" stroke="#1c1c1c" stroke-width="2.2" />
<line x1="930.8" y1="15.5" x2="943.8" y2="15.5" stroke="#1c1c1c" stroke-width="2.4" />
<line x1="936.8" y1="116.3" x2="943.8" y2="116.3" stroke="#1c1c1c" stroke-width="2.4" />
<line x1="930.8" y1="217.2" x2="943.8" y2="217.2" stroke="#1c1c1c" stroke-width="2.4" />
<line x1="936.8" y1="318.7" x2="943.8" y2="318.7" stroke="#1c1c1c" stroke-width="2.4" />
<line x1="930.8" y1="419.3" x2="943.8" y2="419.3" stroke="#1c1c1c" stroke-width="2.4" />
<line x1="936.8" y1="520.0" x2="943.8" y2="520.0" stroke="#1c1c1c" stroke-width="2.4" />
<line x1="930.8" y1="621.3" x2="943.8" y2="621.3" stroke="#1c1c1c" stroke-width="2.4" />
<line x1="943.8" y1="621.1" x2="943.8" y2="634.6" stroke="#1c1c1c" stroke-width="2.4" />
<text x="942.7" y="664.8" font-size="33.6" text-anchor="middle" textLength="52.8" lengthAdjust="spacingAndGlyphs" class="m t">945</text>
<line x1="1033.4" y1="621.1" x2="1033.4" y2="628.1" stroke="#1c1c1c" stroke-width="2.4" />
<line x1="1123.0" y1="621.1" x2="1123.0" y2="634.6" stroke="#1c1c1c" stroke-width="2.4" />
<text x="1122.0" y="664.8" font-size="33.6" text-anchor="middle" textLength="52.8" lengthAdjust="spacingAndGlyphs" class="m t">940</text>
<line x1="1212.7" y1="621.1" x2="1212.7" y2="628.1" stroke="#1c1c1c" stroke-width="2.4" />
<line x1="1302.3" y1="621.1" x2="1302.3" y2="634.6" stroke="#1c1c1c" stroke-width="2.4" />
<text x="1301.2" y="664.8" font-size="33.6" text-anchor="middle" textLength="52.8" lengthAdjust="spacingAndGlyphs" class="m t">935</text>
<line x1="1391.9" y1="621.1" x2="1391.9" y2="628.1" stroke="#1c1c1c" stroke-width="2.4" />
<line x1="1481.5" y1="621.1" x2="1481.5" y2="634.6" stroke="#1c1c1c" stroke-width="2.4" />
<text x="1480.5" y="664.8" font-size="33.6" text-anchor="middle" textLength="52.8" lengthAdjust="spacingAndGlyphs" class="m t">930</text>
<line x1="1571.2" y1="621.1" x2="1571.2" y2="628.1" stroke="#1c1c1c" stroke-width="2.4" />
<line x1="1660.8" y1="621.1" x2="1660.8" y2="634.6" stroke="#1c1c1c" stroke-width="2.4" />
<text x="1659.7" y="664.8" font-size="33.6" text-anchor="middle" textLength="52.8" lengthAdjust="spacingAndGlyphs" class="m t">925</text>
<line x1="895.4" y1="16.9" x2="895.4" y2="223.7" stroke="#2079d2" stroke-width="5" />
<line x1="866.9" y1="16.9" x2="923.6" y2="16.9" stroke="#2079d2" stroke-width="5.5" />
<line x1="871.6" y1="223.7" x2="927.8" y2="223.7" stroke="#2079d2" stroke-width="5.5" />
<text transform="translate(877.8 182.5) rotate(-90)" font-size="44">2x10<tspan font-size="32" dy="-12" dx="1.5">4</tspan></text>
<text transform="translate(923.5 356.5) rotate(-90)" font-size="33" textLength="70.0" lengthAdjust="spacing">CPS</text>
<text x="954.0" y="53.0" font-size="31.6" text-anchor="start" textLength="77.8" lengthAdjust="spacingAndGlyphs" class="m">Cu2p</text>
<line x1="1389.5" y1="38.8" x2="1452.0" y2="38.8" stroke="#0a0a0a" stroke-width="2.4" />
<text x="1459.0" y="48.0" font-size="28" text-anchor="start" textLength="177.5" lengthAdjust="spacingAndGlyphs">Ni/Ce-Sm-5Cu</text>
<line x1="1389.5" y1="74.3" x2="1452.0" y2="74.3" stroke="#ff0a0a" stroke-width="2.4" />
<text x="1459.0" y="83.3" font-size="28" text-anchor="start" textLength="177.5" lengthAdjust="spacingAndGlyphs">Ni/Ce-Sm-7Cu</text>
<line x1="1389.5" y1="110.0" x2="1452.0" y2="110.0" stroke="#1414ff" stroke-width="2.4" />
<text x="1459.0" y="118.8" font-size="28" text-anchor="start" textLength="191.5" lengthAdjust="spacingAndGlyphs">Ni/Ce-Sm-10Cu</text>
<text x="1492.0" y="171.3" font-size="31.8" text-anchor="start" textLength="125.0" lengthAdjust="spacingAndGlyphs">calcined</text>
<text x="967.5" y="200.0" font-size="43.5" text-anchor="start" textLength="153.8" lengthAdjust="spacingAndGlyphs">satellite</text>
<text x="1548.8" y="435.5" font-size="74.2" text-anchor="start">(b)</text>
<text x="1155.3" y="707.5" font-size="32.2" text-anchor="start" textLength="302.5" lengthAdjust="spacingAndGlyphs">Binding Energy (eV)</text>
<polyline fill="none" stroke="#0a0a0a" stroke-width="2.4" stroke-linejoin="miter" stroke-miterlimit="3" points="123.2,1198.3 125.0,1198.0 126.7,1197.5 128.4,1198.7 130.1,1199.2 131.8,1200.1 133.5,1200.1 135.2,1199.1 136.9,1199.4 138.6,1199.7 140.3,1200.1 142.0,1200.3 143.7,1199.6 145.4,1198.2 147.1,1199.3 148.8,1198.6 150.5,1200.4 152.2,1201.1 153.9,1199.5 155.6,1201.4 157.3,1202.3 159.0,1201.6 160.7,1202.9 162.4,1203.6 164.1,1200.6 165.8,1201.8 167.5,1201.9 169.2,1201.6 170.9,1202.0 172.6,1200.5 174.3,1200.0 176.0,1199.8 177.7,1199.7 179.4,1200.2 181.1,1199.0 182.8,1198.8 184.5,1200.4 186.2,1200.2 187.9,1200.3 189.6,1198.1 191.3,1198.3 193.0,1198.7 194.7,1199.2 196.4,1198.6 198.1,1199.7 199.8,1199.0 201.5,1198.5 203.2,1198.2 204.9,1198.5 206.6,1197.0 208.3,1197.6 210.0,1196.8 211.7,1195.6 213.4,1194.6 215.1,1194.2 216.8,1194.0 218.5,1193.3 220.2,1191.8 221.9,1191.0 223.6,1189.2 225.3,1188.6 227.0,1186.0 228.7,1181.2 230.4,1180.6 232.1,1176.2 233.8,1169.8 235.5,1166.2 237.2,1162.0 238.9,1161.2 240.6,1156.8 242.3,1150.8 244.0,1149.8 245.7,1147.2 247.4,1147.3 249.1,1144.6 250.8,1143.5 252.5,1147.6 254.2,1150.7 255.9,1153.6 257.6,1156.4 259.3,1164.5 261.0,1172.7 262.7,1173.9 264.4,1180.1 266.1,1183.3 267.8,1189.5 269.5,1191.8 271.2,1193.2 272.9,1196.4 274.6,1198.0 276.3,1198.2 278.0,1200.4 279.7,1200.8 281.4,1200.1 283.1,1204.1 284.8,1203.7 286.5,1203.2 288.2,1204.6 289.9,1203.6 291.6,1203.6 293.3,1204.9 295.0,1205.5 296.7,1206.4 298.4,1207.9 300.1,1206.9 301.8,1207.5 303.5,1208.1 305.2,1206.7 306.9,1207.6 308.6,1207.0 310.3,1208.7 312.0,1208.8 313.7,1208.2 315.4,1206.7 317.1,1207.6 318.8,1207.1 320.5,1208.1 322.2,1207.6 323.9,1206.5 325.6,1207.8 327.3,1208.0 329.0,1206.4 330.7,1207.4 332.4,1206.4 334.1,1205.6 335.8,1205.8 337.5,1204.8 339.2,1204.5 340.9,1204.6 342.6,1205.9 344.3,1206.0 346.0,1203.8 347.7,1204.5 349.4,1202.9 351.1,1202.2 352.8,1202.3 354.5,1201.3 356.2,1202.5 357.9,1200.5 359.6,1197.8 361.3,1199.2 363.0,1197.5 364.7,1196.3 366.4,1192.8 368.1,1195.0 369.8,1195.3 371.5,1194.6 373.2,1194.4 374.9,1195.0 376.6,1193.6 378.3,1194.2 380.0,1193.2 381.7,1193.5 383.4,1195.6 385.1,1196.0 386.8,1194.8 388.5,1196.6 390.2,1197.9 391.9,1198.7 393.6,1201.6 395.3,1203.0 397.0,1203.4 398.7,1205.0 400.4,1209.1 402.1,1207.7 403.8,1209.3 405.5,1211.2 407.2,1212.1 408.9,1210.9 410.6,1211.6 412.3,1212.5 414.0,1213.3 415.7,1212.1 417.4,1211.2 419.1,1213.1 420.8,1213.9 422.5,1213.2 424.2,1212.0 425.9,1212.7 427.6,1212.7 429.3,1213.2 431.0,1210.8 432.7,1210.5 434.4,1209.6 436.1,1207.5 437.8,1207.5 439.5,1206.9 441.2,1205.6 442.9,1205.5 444.6,1203.2 446.3,1203.1 448.0,1202.9 449.7,1201.7 451.4,1201.1 453.1,1197.5 454.8,1194.6 456.5,1194.2 458.2,1192.8 459.9,1191.8 461.6,1187.3 463.3,1181.4 465.0,1179.1 466.7,1174.7 468.4,1170.1 470.1,1171.0 471.8,1167.5 473.5,1165.5 475.2,1164.3 476.9,1165.0 478.6,1165.8 480.3,1170.2 482.0,1172.3 483.7,1175.8 485.4,1184.4 487.1,1190.2 488.8,1192.3 490.5,1193.9 492.2,1193.6 493.9,1190.8 495.6,1190.0 497.3,1186.5 499.0,1182.3 500.7,1176.8 502.4,1171.4 504.1,1165.0 505.8,1160.4 507.5,1154.3 509.2,1151.6 510.9,1150.9 512.6,1147.7 514.3,1148.6 516.0,1153.3 517.7,1158.0 519.4,1162.7 521.1,1166.5 522.8,1175.9 524.5,1182.0 526.2,1189.4 527.9,1199.5 529.6,1206.4 531.3,1213.3 533.0,1221.8 534.7,1224.8 536.4,1227.9 538.1,1229.4 539.8,1231.7 541.5,1233.6 543.2,1235.9 544.9,1237.3 546.6,1239.0 548.3,1241.0 550.0,1241.7 551.7,1242.2 553.4,1243.3 555.1,1246.2 556.8,1247.3 558.5,1248.9 560.2,1250.0 561.9,1249.2 563.6,1250.4 565.3,1249.2 567.0,1252.7 568.7,1253.4 570.4,1252.1 572.1,1251.0 573.8,1252.4 575.5,1250.8 577.2,1251.1 578.9,1252.8 580.6,1252.4 582.3,1251.4 584.0,1252.2 585.7,1250.4 587.4,1250.7 589.1,1249.9 590.8,1249.0 592.5,1249.7 594.2,1248.2 595.9,1250.0 597.6,1248.0 599.3,1249.1 601.0,1246.3 602.7,1246.3 604.4,1244.5 606.1,1243.1 607.8,1243.9 609.5,1244.2 611.2,1241.8 612.9,1242.9 614.6,1241.1 616.3,1240.6 618.0,1240.4 619.7,1239.9 621.4,1236.7 623.1,1238.3 624.8,1237.3 626.5,1234.8 628.2,1232.8 629.9,1230.9 631.6,1230.0 633.3,1230.8 635.0,1229.5 636.7,1227.7 638.4,1227.9 640.1,1230.1 641.8,1228.9 643.5,1228.1 645.2,1229.9 646.9,1229.6 648.6,1229.0 650.3,1228.5 652.0,1227.9 653.7,1228.7 655.4,1230.3 657.1,1231.8 658.8,1233.8 660.5,1235.8 662.2,1237.3 663.9,1238.8 665.6,1239.1 667.3,1239.1 669.0,1242.0 670.7,1243.7 672.4,1245.2 674.1,1246.6 675.8,1246.2 677.5,1246.2 679.2,1247.3 680.9,1248.0 682.6,1247.4 684.3,1248.3 686.0,1247.9 687.7,1246.8 689.4,1247.4 691.1,1249.2 692.8,1247.0 694.5,1247.5 696.2,1247.7 697.9,1246.8 699.6,1242.9 701.3,1243.0 703.0,1239.9 704.7,1236.9 706.4,1235.1 708.1,1234.4 709.8,1232.6 711.5,1230.6 713.2,1230.3 714.9,1226.8 716.6,1223.5 718.3,1222.4 720.0,1219.8 721.7,1216.8 723.4,1211.1 725.1,1209.1 726.8,1205.5 728.5,1202.7 730.2,1195.8 731.9,1192.0 733.6,1187.0 735.3,1179.8 737.0,1175.7 738.7,1174.9 740.4,1171.4 742.1,1169.2 743.8,1171.6 745.5,1175.7 747.2,1180.1 748.9,1184.1 750.6,1191.8 752.3,1201.1 754.0,1207.3 755.7,1214.4 757.4,1222.8 759.1,1229.7 760.8,1231.7 762.5,1233.3 764.2,1237.1 765.9,1240.6 767.6,1243.9 769.3,1246.8 771.0,1248.0 772.7,1248.6 774.4,1250.6 776.1,1250.9 777.8,1252.5 779.5,1253.3 781.2,1257.4 782.9,1257.8 784.6,1256.8 786.3,1257.3 788.0,1259.0 789.7,1259.1 791.4,1260.8 793.1,1262.3 794.8,1265.1 796.5,1265.6 798.2,1266.1 799.9,1266.7 801.6,1268.1 803.3,1270.5 805.0,1271.9 806.7,1274.1 808.4,1273.7 810.1,1275.4 811.8,1275.8 813.5,1275.8 815.2,1274.3 816.9,1274.8 818.6,1277.4 820.3,1279.1 822.0,1278.4 823.7,1278.9 825.4,1278.2 827.1,1278.0 828.8,1277.9 830.5,1279.5 832.2,1279.2 833.9,1277.9 835.6,1276.9 837.3,1276.8 839.0,1275.7"/>
<polyline fill="none" stroke="#ff0a0a" stroke-width="2.4" stroke-linejoin="miter" stroke-miterlimit="3" points="123.2,1192.4 125.0,1195.5 126.7,1195.2 128.4,1194.7 130.1,1196.4 131.8,1196.7 133.5,1195.6 135.2,1196.1 136.9,1194.8 138.6,1194.9 140.3,1193.6 142.0,1196.8 143.7,1194.9 145.4,1196.7 147.1,1196.2 148.8,1195.6 150.5,1196.5 152.2,1197.3 153.9,1198.0 155.6,1199.4 157.3,1198.4 159.0,1198.6 160.7,1197.3 162.4,1198.2 164.1,1198.2 165.8,1197.4 167.5,1197.6 169.2,1197.8 170.9,1198.1 172.6,1198.5 174.3,1197.6 176.0,1197.0 177.7,1198.5 179.4,1196.4 181.1,1196.6 182.8,1199.1 184.5,1195.3 186.2,1195.7 187.9,1197.7 189.6,1195.5 191.3,1199.0 193.0,1194.8 194.7,1196.9 196.4,1198.2 198.1,1197.3 199.8,1195.6 201.5,1195.5 203.2,1194.0 204.9,1194.9 206.6,1192.9 208.3,1192.5 210.0,1193.4 211.7,1190.8 213.4,1190.0 215.1,1189.8 216.8,1187.1 218.5,1187.7 220.2,1186.0 221.9,1181.8 223.6,1180.4 225.3,1176.9 227.0,1172.9 228.7,1169.6 230.4,1164.6 232.1,1161.9 233.8,1156.5 235.5,1153.4 237.2,1148.3 238.9,1144.4 240.6,1138.9 242.3,1134.1 244.0,1128.6 245.7,1126.0 247.4,1124.4 249.1,1126.5 250.8,1130.1 252.5,1134.2 254.2,1138.6 255.9,1145.0 257.6,1151.2 259.3,1159.3 261.0,1164.9 262.7,1168.0 264.4,1172.7 266.1,1180.1 267.8,1184.0 269.5,1187.0 271.2,1192.3 272.9,1194.4 274.6,1196.5 276.3,1198.2 278.0,1198.2 279.7,1202.0 281.4,1202.0 283.1,1203.0 284.8,1203.9 286.5,1206.2 288.2,1206.5 289.9,1206.9 291.6,1205.7 293.3,1207.3 295.0,1206.9 296.7,1208.8 298.4,1210.0 300.1,1210.1 301.8,1212.8 303.5,1212.7 305.2,1213.0 306.9,1213.2 308.6,1213.2 310.3,1214.6 312.0,1215.2 313.7,1212.5 315.4,1213.7 317.1,1213.4 318.8,1213.0 320.5,1212.0 322.2,1209.5 323.9,1208.5 325.6,1211.4 327.3,1210.7 329.0,1208.3 330.7,1209.5 332.4,1209.2 334.1,1207.4 335.8,1206.3 337.5,1206.8 339.2,1208.9 340.9,1209.2 342.6,1208.7 344.3,1209.0 346.0,1209.3 347.7,1206.1 349.4,1206.3 351.1,1205.5 352.8,1203.9 354.5,1203.4 356.2,1203.0 357.9,1202.0 359.6,1199.8 361.3,1199.6 363.0,1201.7 364.7,1198.4 366.4,1195.7 368.1,1196.7 369.8,1196.9 371.5,1196.3 373.2,1194.2 374.9,1195.7 376.6,1194.6 378.3,1193.9 380.0,1194.7 381.7,1195.9 383.4,1197.6 385.1,1198.4 386.8,1198.7 388.5,1200.9 390.2,1202.0 391.9,1204.3 393.6,1203.8 395.3,1204.3 397.0,1208.1 398.7,1208.0 400.4,1209.7 402.1,1211.6 403.8,1212.4 405.5,1213.3 407.2,1216.2 408.9,1213.4 410.6,1216.3 412.3,1219.7 414.0,1218.4 415.7,1218.2 417.4,1219.5 419.1,1221.4 420.8,1219.0 422.5,1219.5 424.2,1219.8 425.9,1220.5 427.6,1220.1 429.3,1220.0 431.0,1218.4 432.7,1217.8 434.4,1216.3 436.1,1215.1 437.8,1214.8 439.5,1213.9 441.2,1211.6 442.9,1212.6 444.6,1210.2 446.3,1206.5 448.0,1207.0 449.7,1204.1 451.4,1202.9 453.1,1200.7 454.8,1198.4 456.5,1195.8 458.2,1191.6 459.9,1187.8 461.6,1185.8 463.3,1176.9 465.0,1173.7 466.7,1170.5 468.4,1164.4 470.1,1159.6 471.8,1160.6 473.5,1157.1 475.2,1157.6 476.9,1158.3 478.6,1161.8 480.3,1167.4 482.0,1172.9 483.7,1179.6 485.4,1184.5 487.1,1188.6 488.8,1193.1 490.5,1197.5 492.2,1196.9 493.9,1191.6 495.6,1187.0 497.3,1183.9 499.0,1177.9 500.7,1171.8 502.4,1165.0 504.1,1159.9 505.8,1155.3 507.5,1149.9 509.2,1143.2 510.9,1141.5 512.6,1139.8 514.3,1146.1 516.0,1150.1 517.7,1154.4 519.4,1161.1 521.1,1166.7 522.8,1179.5 524.5,1190.5 526.2,1202.8 527.9,1207.6 529.6,1218.2 531.3,1223.3 533.0,1229.7 534.7,1231.5 536.4,1238.2 538.1,1242.7 539.8,1247.3 541.5,1250.4 543.2,1251.7 544.9,1256.0 546.6,1258.6 548.3,1260.5 550.0,1262.9 551.7,1264.9 553.4,1265.3 555.1,1264.8 556.8,1265.2 558.5,1268.5 560.2,1269.2 561.9,1268.6 563.6,1268.1 565.3,1268.7 567.0,1269.0 568.7,1268.8 570.4,1268.5 572.1,1271.4 573.8,1270.5 575.5,1268.9 577.2,1267.8 578.9,1267.8 580.6,1269.1 582.3,1269.0 584.0,1267.4 585.7,1266.6 587.4,1265.7 589.1,1264.1 590.8,1265.9 592.5,1265.4 594.2,1267.0 595.9,1264.1 597.6,1263.3 599.3,1264.3 601.0,1263.1 602.7,1261.1 604.4,1260.6 606.1,1261.1 607.8,1260.9 609.5,1259.6 611.2,1259.5 612.9,1258.8 614.6,1256.9 616.3,1255.1 618.0,1253.5 619.7,1253.0 621.4,1252.2 623.1,1249.8 624.8,1248.3 626.5,1246.0 628.2,1242.9 629.9,1241.5 631.6,1242.1 633.3,1240.8 635.0,1240.3 636.7,1237.4 638.4,1236.2 640.1,1235.7 641.8,1234.6 643.5,1232.3 645.2,1232.2 646.9,1233.7 648.6,1234.3 650.3,1237.3 652.0,1240.3 653.7,1240.4 655.4,1243.8 657.1,1243.6 658.8,1244.2 660.5,1245.5 662.2,1246.3 663.9,1248.8 665.6,1250.2 667.3,1253.4 669.0,1254.5 670.7,1255.8 672.4,1256.7 674.1,1256.9 675.8,1259.7 677.5,1261.5 679.2,1265.1 680.9,1265.3 682.6,1266.5 684.3,1265.6 686.0,1264.6 687.7,1263.2 689.4,1262.1 691.1,1261.8 692.8,1261.4 694.5,1258.9 696.2,1258.7 697.9,1260.4 699.6,1257.1 701.3,1254.8 703.0,1253.0 704.7,1250.5 706.4,1251.2 708.1,1248.9 709.8,1246.5 711.5,1245.9 713.2,1244.6 714.9,1238.5 716.6,1236.6 718.3,1233.9 720.0,1230.2 721.7,1226.7 723.4,1222.5 725.1,1220.4 726.8,1215.8 728.5,1210.6 730.2,1206.8 731.9,1202.1 733.6,1196.9 735.3,1191.3 737.0,1187.9 738.7,1183.9 740.4,1183.8 742.1,1187.8 743.8,1194.9 745.5,1204.7 747.2,1218.7 748.9,1231.2 750.6,1239.5 752.3,1252.6 754.0,1262.7 755.7,1269.3 757.4,1273.6 759.1,1280.6 760.8,1283.1 762.5,1285.2 764.2,1288.2 765.9,1292.0 767.6,1295.6 769.3,1297.8 771.0,1298.4 772.7,1297.9 774.4,1299.1 776.1,1300.1 777.8,1301.8 779.5,1301.5 781.2,1304.0 782.9,1306.2 784.6,1306.5 786.3,1307.8 788.0,1307.2 789.7,1306.7 791.4,1307.7 793.1,1310.1 794.8,1310.7 796.5,1309.2 798.2,1310.6 799.9,1309.7 801.6,1311.3 803.3,1311.1 805.0,1310.2 806.7,1311.9 808.4,1311.5 810.1,1311.7 811.8,1311.9 813.5,1314.2 815.2,1315.0 816.9,1315.1 818.6,1315.0 820.3,1317.1 822.0,1316.0 823.7,1315.2 825.4,1317.2 827.1,1318.2 828.8,1317.1 830.5,1314.5 832.2,1314.8 833.9,1316.3 835.6,1315.9 837.3,1317.0 839.0,1314.2"/>
<polyline fill="none" stroke="#1414ff" stroke-width="2.4" stroke-linejoin="miter" stroke-miterlimit="3" points="123.0,966.2 124.7,964.9 126.4,966.5 128.1,965.9 129.8,966.7 131.5,965.7 133.2,964.6 134.9,964.9 136.6,965.9 138.3,966.2 140.0,968.9 141.7,970.5 143.4,970.1 145.1,969.0 146.8,969.8 148.5,969.5 150.2,971.0 151.9,970.0 153.6,969.0 155.3,967.4 157.0,964.7 158.7,964.6 160.4,964.2 162.1,965.3 163.8,965.7 165.5,965.6 167.2,966.9 168.9,970.2 170.6,969.3 172.3,969.0 174.0,969.7 175.7,969.2 177.4,968.9 179.1,969.4 180.8,970.4 182.5,966.8 184.2,966.9 185.9,967.1 187.6,966.6 189.3,966.3 191.0,966.2 192.7,967.8 194.4,967.4 196.1,967.9 197.8,968.6 199.5,969.1 201.2,968.7 202.9,969.0 204.6,967.2 206.3,965.5 208.0,963.6 209.7,960.8 211.4,958.8 213.1,956.5 214.8,955.2 216.5,952.0 218.2,948.4 219.9,946.6 221.6,944.1 223.3,938.1 225.0,937.0 226.7,932.0 228.4,926.1 230.1,921.4 231.8,913.6 233.5,904.4 235.2,899.1 236.9,884.7 238.6,874.1 240.3,866.5 242.0,855.1 243.7,848.6 245.4,844.5 247.1,843.2 248.8,839.3 250.5,838.9 252.2,842.8 253.9,847.4 255.6,854.0 257.3,868.4 259.0,881.1 260.7,893.8 262.4,907.4 264.1,918.2 265.8,926.5 267.5,934.3 269.2,939.5 270.9,946.3 272.6,952.6 274.3,956.8 276.0,961.4 277.7,964.6 279.4,970.4 281.1,974.9 282.8,974.7 284.5,976.3 286.2,977.3 287.9,979.7 289.6,980.5 291.3,980.9 293.0,981.7 294.7,983.4 296.4,983.8 298.1,986.3 299.8,986.0 301.5,986.5 303.2,985.8 304.9,985.8 306.6,984.4 308.3,985.2 310.0,984.7 311.7,987.1 313.4,987.7 315.1,986.8 316.8,983.7 318.5,981.2 320.2,977.3 321.9,978.7 323.6,977.6 325.3,979.7 327.0,977.5 328.7,977.4 330.4,977.0 332.1,980.1 333.8,978.1 335.5,978.0 337.2,977.0 338.9,974.5 340.6,974.4 342.3,974.8 344.0,973.3 345.7,973.3 347.4,971.8 349.1,971.1 350.8,970.3 352.5,970.3 354.2,971.4 355.9,969.6 357.6,968.0 359.3,965.6 361.0,963.0 362.7,962.7 364.4,958.3 366.1,955.4 367.8,954.6 369.5,953.1 371.2,953.9 372.9,949.1 374.6,949.4 376.3,950.0 378.0,948.2 379.7,948.3 381.4,950.2 383.1,952.7 384.8,951.7 386.5,951.4 388.2,955.0 389.9,958.4 391.6,959.2 393.3,959.4 395.0,965.5 396.7,968.0 398.4,971.6 400.1,973.8 401.8,976.0 403.5,978.7 405.2,983.1 406.9,986.3 408.6,985.3 410.3,987.4 412.0,991.6 413.7,990.5 415.4,988.8 417.1,989.8 418.8,990.0 420.5,989.9 422.2,989.5 423.9,989.4 425.6,989.2 427.3,989.7 429.0,988.6 430.7,987.7 432.4,986.6 434.1,986.5 435.8,984.5 437.5,982.3 439.2,981.3 440.9,979.7 442.6,978.5 444.3,976.1 446.0,974.8 447.7,971.9 449.4,967.1 451.1,962.7 452.8,960.3 454.5,956.4 456.2,951.3 457.9,944.4 459.6,937.0 461.3,931.1 463.0,922.7 464.7,913.1 466.4,900.0 468.1,892.9 469.8,883.9 471.5,877.6 473.2,872.9 474.9,868.4 476.6,870.7 478.3,874.4 480.0,887.4 481.7,900.3 483.4,914.9 485.1,926.2 486.8,935.5 488.5,941.8 490.2,944.6 491.9,944.3 493.6,940.3 495.3,935.7 497.0,925.6 498.7,911.3 500.4,900.9 502.1,889.6 503.8,876.8 505.5,864.8 507.2,852.9 508.9,842.5 510.6,837.1 512.3,834.4 514.0,839.6 515.7,846.1 517.4,854.3 519.1,872.0 520.8,889.7 522.5,905.4 524.2,922.5 525.9,938.0 527.6,956.1 529.3,967.4 531.0,980.2 532.7,995.4 534.4,1003.4 536.1,1012.5 537.8,1020.7 539.5,1026.6 541.2,1032.9 542.9,1037.8 544.6,1039.8 546.3,1043.6 548.0,1047.9 549.7,1051.1 551.4,1051.3 553.1,1054.0 554.8,1056.2 556.5,1060.8 558.2,1062.6 559.9,1063.4 561.6,1062.7 563.3,1062.6 565.0,1064.3 566.7,1065.1 568.4,1064.5 570.1,1065.4 571.8,1066.5 573.5,1066.5 575.2,1065.3 576.9,1064.0 578.6,1065.5 580.3,1066.6 582.0,1066.0 583.7,1064.6 585.4,1062.8 587.1,1062.4 588.8,1060.5 590.5,1059.1 592.2,1057.2 593.9,1056.3 595.6,1056.5 597.3,1054.8 599.0,1053.3 600.7,1053.1 602.4,1053.8 604.1,1052.0 605.8,1051.5 607.5,1048.8 609.2,1046.3 610.9,1043.3 612.6,1041.4 614.3,1041.0 616.0,1037.6 617.7,1034.6 619.4,1031.8 621.1,1028.3 622.8,1025.2 624.5,1022.8 626.2,1020.8 627.9,1018.3 629.6,1015.8 631.3,1013.3 633.0,1010.1 634.7,1008.3 636.4,1005.9 638.1,1005.8 639.8,1001.7 641.5,1000.7 643.2,1002.3 644.9,999.5 646.6,998.0 648.3,1000.1 650.0,1003.8 651.7,1005.1 653.4,1007.6 655.1,1009.6 656.8,1011.6 658.5,1018.2 660.2,1020.1 661.9,1023.4 663.6,1028.1 665.3,1032.3 667.0,1035.0 668.7,1037.5 670.4,1039.3 672.1,1040.2 673.8,1044.5 675.5,1046.4 677.2,1047.6 678.9,1047.7 680.6,1049.5 682.3,1050.6 684.0,1052.0 685.7,1051.2 687.4,1052.3 689.1,1052.4 690.8,1050.3 692.5,1049.2 694.2,1047.7 695.9,1048.0 697.6,1043.5 699.3,1042.5 701.0,1039.6 702.7,1037.7 704.4,1036.7 706.1,1032.5 707.8,1029.3 709.5,1024.6 711.2,1022.9 712.9,1018.2 714.6,1013.2 716.3,1005.6 718.0,999.8 719.7,997.1 721.4,990.6 723.1,983.5 724.8,976.8 726.5,965.1 728.2,956.7 729.9,945.6 731.6,935.4 733.3,922.8 735.0,914.3 736.7,905.0 738.4,899.1 740.1,896.7 741.8,899.5 743.5,905.2 745.2,917.3 746.9,930.4 748.6,952.8 750.3,973.0 752.0,993.2 753.7,1010.6 755.4,1025.2 757.1,1040.8 758.8,1055.1 760.5,1067.0 762.2,1072.9 763.9,1078.7 765.6,1087.5 767.3,1090.6 769.0,1096.1 770.7,1097.7 772.4,1098.2 774.1,1101.7 775.8,1104.8 777.5,1103.6 779.2,1107.3 780.9,1108.0 782.6,1110.7 784.3,1110.8 786.0,1110.4 787.7,1113.5 789.4,1116.0 791.1,1118.7 792.8,1120.2 794.5,1120.4 796.2,1120.5 797.9,1121.3 799.6,1122.6 801.3,1123.4 803.0,1124.9 804.7,1124.0 806.4,1127.0 808.1,1128.7 809.8,1132.2 811.5,1132.1 813.2,1131.2 814.9,1132.7 816.6,1132.2 818.3,1133.0 820.0,1132.5 821.7,1135.7 823.4,1136.0 825.1,1134.0 826.8,1134.3 828.5,1135.4 830.2,1135.0 831.9,1134.5 833.6,1132.9 835.3,1132.3 837.0,1132.6 838.7,1133.1"/>
<rect x="123.6" y="761.1" width="716.4" height="606.3000000000001" fill="none" stroke="#1c1c1c" stroke-width="3"/>
<line x1="195.2" y1="761.1" x2="195.2" y2="768.1" stroke="#1c1c1c" stroke-width="2.2" />
<line x1="833.0" y1="821.7" x2="840.0" y2="821.7" stroke="#1c1c1c" stroke-width="2.2" />
<line x1="266.9" y1="761.1" x2="266.9" y2="773.6" stroke="#1c1c1c" stroke-width="2.2" />
<line x1="827.5" y1="882.4" x2="840.0" y2="882.4" stroke="#1c1c1c" stroke-width="2.2" />
<line x1="338.5" y1="761.1" x2="338.5" y2="768.1" stroke="#1c1c1c" stroke-width="2.2" />
<line x1="833.0" y1="943.0" x2="840.0" y2="943.0" stroke="#1c1c1c" stroke-width="2.2" />
<line x1="410.2" y1="761.1" x2="410.2" y2="773.6" stroke="#1c1c1c" stroke-width="2.2" />
<line x1="827.5" y1="1003.6" x2="840.0" y2="1003.6" stroke="#1c1c1c" stroke-width="2.2" />
<line x1="481.8" y1="761.1" x2="481.8" y2="768.1" stroke="#1c1c1c" stroke-width="2.2" />
<line x1="833.0" y1="1064.2" x2="840.0" y2="1064.2" stroke="#1c1c1c" stroke-width="2.2" />
<line x1="553.4" y1="761.1" x2="553.4" y2="773.6" stroke="#1c1c1c" stroke-width="2.2" />
<line x1="827.5" y1="1124.9" x2="840.0" y2="1124.9" stroke="#1c1c1c" stroke-width="2.2" />
<line x1="625.1" y1="761.1" x2="625.1" y2="768.1" stroke="#1c1c1c" stroke-width="2.2" />
<line x1="833.0" y1="1185.5" x2="840.0" y2="1185.5" stroke="#1c1c1c" stroke-width="2.2" />
<line x1="696.7" y1="761.1" x2="696.7" y2="773.6" stroke="#1c1c1c" stroke-width="2.2" />
<line x1="827.5" y1="1246.1" x2="840.0" y2="1246.1" stroke="#1c1c1c" stroke-width="2.2" />
<line x1="768.4" y1="761.1" x2="768.4" y2="768.1" stroke="#1c1c1c" stroke-width="2.2" />
<line x1="833.0" y1="1306.8" x2="840.0" y2="1306.8" stroke="#1c1c1c" stroke-width="2.2" />
<line x1="116.6" y1="761.0" x2="123.6" y2="761.0" stroke="#1c1c1c" stroke-width="2.4" />
<line x1="110.6" y1="862.5" x2="123.6" y2="862.5" stroke="#1c1c1c" stroke-width="2.4" />
<line x1="116.6" y1="963.0" x2="123.6" y2="963.0" stroke="#1c1c1c" stroke-width="2.4" />
<line x1="110.6" y1="1064.2" x2="123.6" y2="1064.2" stroke="#1c1c1c" stroke-width="2.4" />
<line x1="116.6" y1="1164.5" x2="123.6" y2="1164.5" stroke="#1c1c1c" stroke-width="2.4" />
<line x1="110.6" y1="1266.0" x2="123.6" y2="1266.0" stroke="#1c1c1c" stroke-width="2.4" />
<line x1="116.6" y1="1367.3" x2="123.6" y2="1367.3" stroke="#1c1c1c" stroke-width="2.4" />
<line x1="123.6" y1="1367.4" x2="123.6" y2="1374.4" stroke="#1c1c1c" stroke-width="2.4" />
<line x1="195.2" y1="1367.4" x2="195.2" y2="1380.9" stroke="#1c1c1c" stroke-width="2.4" />
<text x="194.1" y="1410.6" font-size="33.6" text-anchor="middle" textLength="52.8" lengthAdjust="spacingAndGlyphs" class="m t">920</text>
<line x1="266.9" y1="1367.4" x2="266.9" y2="1374.4" stroke="#1c1c1c" stroke-width="2.4" />
<line x1="338.5" y1="1367.4" x2="338.5" y2="1380.9" stroke="#1c1c1c" stroke-width="2.4" />
<text x="337.4" y="1410.6" font-size="33.6" text-anchor="middle" textLength="52.8" lengthAdjust="spacingAndGlyphs" class="m t">910</text>
<line x1="410.2" y1="1367.4" x2="410.2" y2="1374.4" stroke="#1c1c1c" stroke-width="2.4" />
<line x1="481.8" y1="1367.4" x2="481.8" y2="1380.9" stroke="#1c1c1c" stroke-width="2.4" />
<text x="480.7" y="1410.6" font-size="33.6" text-anchor="middle" textLength="52.8" lengthAdjust="spacingAndGlyphs" class="m t">900</text>
<line x1="553.4" y1="1367.4" x2="553.4" y2="1374.4" stroke="#1c1c1c" stroke-width="2.4" />
<line x1="625.1" y1="1367.4" x2="625.1" y2="1380.9" stroke="#1c1c1c" stroke-width="2.4" />
<text x="624.0" y="1410.6" font-size="33.6" text-anchor="middle" textLength="52.8" lengthAdjust="spacingAndGlyphs" class="m t">890</text>
<line x1="696.7" y1="1367.4" x2="696.7" y2="1374.4" stroke="#1c1c1c" stroke-width="2.4" />
<line x1="768.4" y1="1367.4" x2="768.4" y2="1380.9" stroke="#1c1c1c" stroke-width="2.4" />
<text x="767.3" y="1410.6" font-size="33.6" text-anchor="middle" textLength="52.8" lengthAdjust="spacingAndGlyphs" class="m t">880</text>
<line x1="840.0" y1="1367.4" x2="840.0" y2="1374.4" stroke="#1c1c1c" stroke-width="2.4" />
<line x1="66.3" y1="760.5" x2="66.3" y2="968.1" stroke="#2079d2" stroke-width="5" />
<line x1="37.6" y1="760.5" x2="94.8" y2="760.5" stroke="#2079d2" stroke-width="5.5" />
<line x1="42.3" y1="968.1" x2="99.3" y2="968.1" stroke="#2079d2" stroke-width="5.5" />
<text transform="translate(48.8 924.5) rotate(-90)" font-size="44">2x10<tspan font-size="32" dy="-12" dx="1.5">4</tspan></text>
<text transform="translate(102.5 1069.3) rotate(-90)" font-size="33" textLength="70.0" lengthAdjust="spacing">CPS</text>
<text x="129.2" y="799.5" font-size="31.6" text-anchor="start" textLength="77.0" lengthAdjust="spacingAndGlyphs" class="m">Ce3d</text>
<line x1="533.5" y1="789.5" x2="596.0" y2="789.5" stroke="#0a0a0a" stroke-width="2.4" />
<text x="603.0" y="798.5" font-size="28" text-anchor="start" textLength="177.5" lengthAdjust="spacingAndGlyphs">Ni/Ce-Sm-5Cu</text>
<line x1="533.5" y1="825.3" x2="596.0" y2="825.3" stroke="#ff0a0a" stroke-width="2.4" />
<text x="603.0" y="834.0" font-size="28" text-anchor="start" textLength="177.5" lengthAdjust="spacingAndGlyphs">Ni/Ce-Sm-7Cu</text>
<line x1="533.5" y1="860.3" x2="596.0" y2="860.3" stroke="#1414ff" stroke-width="2.4" />
<text x="603.0" y="869.0" font-size="28" text-anchor="start" textLength="191.5" lengthAdjust="spacingAndGlyphs">Ni/Ce-Sm-10Cu</text>
<text x="584.6" y="905.3" font-size="31.8" text-anchor="start" textLength="125.0" lengthAdjust="spacingAndGlyphs">calcined</text>
<text x="691.5" y="1156.5" font-size="74.2" text-anchor="start">(c)</text>
<text x="324.6" y="1450.8" font-size="32.2" text-anchor="start" textLength="302.0" lengthAdjust="spacingAndGlyphs">Binding Energy (eV)</text>
<polyline fill="none" stroke="#0a0a0a" stroke-width="2.3" stroke-linejoin="miter" stroke-miterlimit="3" points="956.0,1262.0 957.7,1261.1 959.4,1263.0 961.1,1261.7 962.8,1262.8 964.5,1262.5 966.2,1262.8 967.9,1263.7 969.6,1262.8 971.3,1262.5 973.0,1260.8 974.7,1260.4 976.4,1261.6 978.1,1262.8 979.8,1262.8 981.5,1263.6 983.2,1261.9 984.9,1261.1 986.6,1261.7 988.3,1260.9 990.0,1260.5 991.7,1259.4 993.4,1260.9 995.1,1259.4 996.8,1260.0 998.5,1258.4 1000.2,1259.8 1001.9,1258.0 1003.6,1258.5 1005.3,1256.2 1007.0,1255.8 1008.7,1257.0 1010.4,1254.9 1012.1,1254.3 1013.8,1253.3 1015.5,1250.5 1017.2,1251.5 1018.9,1251.4 1020.6,1249.0 1022.3,1249.0 1024.0,1247.1 1025.7,1245.3 1027.4,1244.9 1029.1,1243.1 1030.8,1244.3 1032.5,1239.9 1034.2,1239.2 1035.9,1238.5 1037.6,1234.1 1039.3,1231.8 1041.0,1232.5 1042.7,1230.7 1044.4,1229.6 1046.1,1229.0 1047.8,1226.3 1049.5,1223.8 1051.2,1220.7 1052.9,1221.8 1054.6,1220.7 1056.3,1220.7 1058.0,1220.0 1059.7,1217.3 1061.4,1218.3 1063.1,1216.8 1064.8,1213.9 1066.5,1209.0 1068.2,1206.2 1069.9,1203.5 1071.6,1201.0 1073.3,1197.8 1075.0,1196.5 1076.7,1194.3 1078.4,1191.8 1080.1,1188.4 1081.8,1187.4 1083.5,1184.3 1085.2,1178.4 1086.9,1177.0 1088.6,1176.0 1090.3,1175.3 1092.0,1172.6 1093.7,1170.7 1095.4,1169.4 1097.1,1170.6 1098.8,1170.8 1100.5,1171.5 1102.2,1172.9 1103.9,1175.7 1105.6,1176.9 1107.3,1177.7 1109.0,1182.3 1110.7,1184.6 1112.4,1188.2 1114.1,1191.6 1115.8,1196.0 1117.5,1200.0 1119.2,1202.1 1120.9,1205.7 1122.6,1208.1 1124.3,1214.2 1126.0,1217.3 1127.7,1221.1 1129.4,1222.6 1131.1,1223.0 1132.8,1228.4 1134.5,1230.3 1136.2,1231.9 1137.9,1233.8 1139.6,1236.2 1141.3,1238.2 1143.0,1238.0 1144.7,1242.0 1146.4,1243.3 1148.1,1245.0 1149.8,1249.2 1151.5,1251.2 1153.2,1251.8 1154.9,1251.8 1156.6,1255.1 1158.3,1257.9 1160.0,1259.0 1161.7,1259.3 1163.4,1261.0 1165.1,1262.2 1166.8,1265.0 1168.5,1267.4 1170.2,1269.2 1171.9,1268.9 1173.6,1270.6 1175.3,1272.3 1177.0,1272.5 1178.7,1273.6 1180.4,1276.8 1182.1,1276.6 1183.8,1277.5 1185.5,1277.4 1187.2,1278.2 1188.9,1277.5 1190.6,1279.3 1192.3,1281.7 1194.0,1283.6 1195.7,1283.7 1197.4,1283.6 1199.1,1283.4 1200.8,1283.1 1202.5,1283.9 1204.2,1285.3 1205.9,1284.7 1207.6,1286.4 1209.3,1285.6 1211.0,1284.7 1212.7,1285.6 1214.4,1285.6 1216.1,1286.1 1217.8,1288.9 1219.5,1288.7 1221.2,1288.9 1222.9,1290.2 1224.6,1290.8 1226.3,1289.4 1228.0,1290.8 1229.7,1290.7 1231.4,1290.3 1233.1,1290.7 1234.8,1289.3 1236.5,1289.4 1238.2,1290.3 1239.9,1291.3 1241.6,1290.6 1243.3,1290.5 1245.0,1291.5 1246.7,1292.1 1248.4,1291.5 1250.1,1291.6 1251.8,1290.0 1253.5,1289.4 1255.2,1289.8 1256.9,1289.2 1258.6,1288.5 1260.3,1290.2 1262.0,1288.9 1263.7,1287.2 1265.4,1287.8 1267.1,1289.0 1268.8,1287.4 1270.5,1287.6 1272.2,1286.2 1273.9,1285.8 1275.6,1285.9 1277.3,1286.8 1279.0,1289.3 1280.7,1287.6 1282.4,1289.7 1284.1,1288.3 1285.8,1288.4 1287.5,1289.8 1289.2,1290.0 1290.9,1289.7 1292.6,1287.9 1294.3,1289.2 1296.0,1288.7 1297.7,1291.7 1299.4,1290.3 1301.1,1289.9 1302.8,1288.9 1304.5,1289.2 1306.2,1288.9 1307.9,1290.9 1309.6,1290.7 1311.3,1291.3 1313.0,1290.7 1314.7,1290.7 1316.4,1292.7 1318.1,1291.4 1319.8,1290.2 1321.5,1292.3 1323.2,1291.9 1324.9,1292.4 1326.6,1294.3 1328.3,1293.5 1330.0,1295.0 1331.7,1294.5 1333.4,1296.5 1335.1,1297.5 1336.8,1296.2 1338.5,1296.2 1340.2,1296.1 1341.9,1297.1 1343.6,1298.5 1345.3,1296.5 1347.0,1297.9 1348.7,1296.5 1350.4,1296.3 1352.1,1295.6 1353.8,1298.9 1355.5,1298.2 1357.2,1297.7 1358.9,1296.9 1360.6,1298.3 1362.3,1295.9 1364.0,1296.9 1365.7,1299.6 1367.4,1297.8 1369.1,1297.4 1370.8,1298.1 1372.5,1296.9 1374.2,1297.3 1375.9,1298.4 1377.6,1298.0 1379.3,1297.9 1381.0,1297.3 1382.7,1297.7 1384.4,1297.7 1386.1,1298.9 1387.8,1298.7 1389.5,1297.8 1391.2,1295.7 1392.9,1298.4 1394.6,1299.9 1396.3,1298.8 1398.0,1297.6 1399.7,1298.4 1401.4,1301.0 1403.1,1300.2 1404.8,1300.4 1406.5,1301.3 1408.2,1302.4 1409.9,1301.4 1411.6,1300.6 1413.3,1299.8 1415.0,1301.3 1416.7,1301.0 1418.4,1299.2 1420.1,1297.0 1421.8,1296.3 1423.5,1296.7 1425.2,1294.5 1426.9,1294.0 1428.6,1292.1 1430.3,1288.8 1432.0,1285.3 1433.7,1280.8 1435.4,1274.7 1437.1,1270.2 1438.8,1268.6 1440.5,1260.5 1442.2,1254.7 1443.9,1251.4 1445.6,1245.1 1447.3,1238.4 1449.0,1231.9 1450.7,1228.0 1452.4,1223.1 1454.1,1217.1 1455.8,1208.6 1457.5,1202.3 1459.2,1193.4 1460.9,1187.5 1462.6,1180.6 1464.3,1175.0 1466.0,1170.1 1467.7,1165.0 1469.4,1157.0 1471.1,1153.3 1472.8,1147.6 1474.5,1142.9 1476.2,1140.7 1477.9,1137.3 1479.6,1136.4 1481.3,1135.6 1483.0,1133.9 1484.7,1134.3 1486.4,1134.4 1488.1,1135.6 1489.8,1135.7 1491.5,1138.4 1493.2,1140.4 1494.9,1143.5 1496.6,1147.5 1498.3,1152.4 1500.0,1156.0 1501.7,1161.5 1503.4,1169.4 1505.1,1176.9 1506.8,1183.3 1508.5,1190.3 1510.2,1197.3 1511.9,1202.5 1513.6,1207.5 1515.3,1211.9 1517.0,1217.3 1518.7,1223.2 1520.4,1229.2 1522.1,1234.1 1523.8,1238.3 1525.5,1242.3 1527.2,1247.4 1528.9,1251.6 1530.6,1255.8 1532.3,1259.7 1534.0,1262.1 1535.7,1263.9 1537.4,1267.3 1539.1,1269.7 1540.8,1270.9 1542.5,1272.5 1544.2,1277.4 1545.9,1278.0 1547.6,1280.4 1549.3,1284.0 1551.0,1285.6 1552.7,1289.1 1554.4,1294.0 1556.1,1296.4 1557.8,1298.4 1559.5,1300.7 1561.2,1302.4 1562.9,1305.1 1564.6,1306.2 1566.3,1307.3 1568.0,1309.4 1569.7,1311.9 1571.4,1313.0 1573.1,1314.5 1574.8,1313.3 1576.5,1316.7 1578.2,1319.9 1579.9,1320.4 1581.6,1319.7 1583.3,1319.8 1585.0,1322.0 1586.7,1322.5 1588.4,1325.2 1590.1,1325.9 1591.8,1328.4 1593.5,1330.6 1595.2,1328.8 1596.9,1331.2 1598.6,1332.2 1600.3,1332.5 1602.0,1334.2 1603.7,1335.9 1605.4,1338.0 1607.1,1336.5 1608.8,1338.6 1610.5,1340.6 1612.2,1339.8 1613.9,1339.4 1615.6,1338.8 1617.3,1337.1 1619.0,1337.7 1620.7,1337.3 1622.4,1336.7 1624.1,1337.6 1625.8,1335.3 1627.5,1332.8 1629.2,1332.1 1630.9,1327.9 1632.6,1325.7 1634.3,1325.4 1636.0,1324.5 1637.7,1324.8 1639.4,1323.5 1641.1,1324.5 1642.8,1324.6 1644.5,1323.8 1646.2,1323.3 1647.9,1325.5 1649.6,1327.8 1651.3,1327.8 1653.0,1330.0 1654.7,1332.3 1656.4,1333.4 1658.1,1335.9 1659.8,1337.3 1661.5,1336.7 1663.2,1338.4 1664.9,1338.9 1666.6,1340.3 1668.3,1339.2 1670.0,1339.9"/>
<polyline fill="none" stroke="#ff0a0a" stroke-width="2.3" stroke-linejoin="miter" stroke-miterlimit="3" points="956.0,1248.4 957.7,1248.9 959.4,1247.9 961.1,1246.2 962.8,1248.7 964.5,1247.7 966.2,1248.4 967.9,1247.9 969.6,1247.6 971.3,1248.6 973.0,1247.4 974.7,1247.8 976.4,1245.3 978.1,1246.4 979.8,1245.9 981.5,1245.5 983.2,1245.5 984.9,1245.7 986.6,1246.8 988.3,1243.7 990.0,1244.2 991.7,1243.8 993.4,1245.1 995.1,1243.9 996.8,1243.9 998.5,1242.9 1000.2,1243.1 1001.9,1243.1 1003.6,1241.2 1005.3,1240.4 1007.0,1238.3 1008.7,1238.6 1010.4,1238.7 1012.1,1236.6 1013.8,1236.6 1015.5,1232.7 1017.2,1230.5 1018.9,1229.5 1020.6,1228.9 1022.3,1228.1 1024.0,1226.7 1025.7,1225.2 1027.4,1224.5 1029.1,1222.2 1030.8,1219.7 1032.5,1218.1 1034.2,1219.9 1035.9,1215.3 1037.6,1214.5 1039.3,1215.3 1041.0,1213.4 1042.7,1210.4 1044.4,1209.3 1046.1,1208.8 1047.8,1207.9 1049.5,1204.5 1051.2,1203.8 1052.9,1202.3 1054.6,1201.3 1056.3,1200.1 1058.0,1196.9 1059.7,1193.6 1061.4,1193.2 1063.1,1193.4 1064.8,1190.9 1066.5,1188.0 1068.2,1187.8 1069.9,1182.7 1071.6,1180.6 1073.3,1176.5 1075.0,1173.3 1076.7,1170.2 1078.4,1168.4 1080.1,1163.5 1081.8,1160.5 1083.5,1157.1 1085.2,1156.4 1086.9,1153.9 1088.6,1152.5 1090.3,1149.7 1092.0,1148.5 1093.7,1148.8 1095.4,1146.9 1097.1,1146.4 1098.8,1146.2 1100.5,1145.9 1102.2,1146.3 1103.9,1151.0 1105.6,1153.7 1107.3,1156.8 1109.0,1156.9 1110.7,1159.4 1112.4,1162.3 1114.1,1166.9 1115.8,1172.9 1117.5,1176.7 1119.2,1179.7 1120.9,1183.7 1122.6,1188.4 1124.3,1191.4 1126.0,1195.6 1127.7,1199.6 1129.4,1201.0 1131.1,1205.7 1132.8,1211.3 1134.5,1212.8 1136.2,1214.8 1137.9,1216.5 1139.6,1218.4 1141.3,1221.9 1143.0,1222.9 1144.7,1223.6 1146.4,1223.4 1148.1,1227.4 1149.8,1229.1 1151.5,1231.0 1153.2,1235.9 1154.9,1238.9 1156.6,1238.5 1158.3,1242.5 1160.0,1245.0 1161.7,1245.8 1163.4,1248.9 1165.1,1249.2 1166.8,1250.8 1168.5,1252.5 1170.2,1254.5 1171.9,1258.0 1173.6,1257.8 1175.3,1258.4 1177.0,1259.7 1178.7,1261.8 1180.4,1262.5 1182.1,1264.3 1183.8,1263.9 1185.5,1263.6 1187.2,1264.9 1188.9,1266.4 1190.6,1266.4 1192.3,1268.1 1194.0,1270.7 1195.7,1269.8 1197.4,1270.5 1199.1,1272.7 1200.8,1272.1 1202.5,1272.1 1204.2,1272.5 1205.9,1274.6 1207.6,1275.8 1209.3,1275.8 1211.0,1276.2 1212.7,1277.9 1214.4,1278.3 1216.1,1276.4 1217.8,1277.4 1219.5,1278.3 1221.2,1279.3 1222.9,1278.9 1224.6,1278.5 1226.3,1278.8 1228.0,1277.8 1229.7,1279.3 1231.4,1279.4 1233.1,1280.4 1234.8,1279.5 1236.5,1279.7 1238.2,1279.6 1239.9,1279.4 1241.6,1281.2 1243.3,1280.7 1245.0,1281.3 1246.7,1280.2 1248.4,1280.9 1250.1,1279.6 1251.8,1280.2 1253.5,1280.4 1255.2,1281.2 1256.9,1280.9 1258.6,1280.1 1260.3,1280.6 1262.0,1279.9 1263.7,1279.7 1265.4,1279.8 1267.1,1278.9 1268.8,1278.4 1270.5,1278.9 1272.2,1278.5 1273.9,1279.1 1275.6,1280.1 1277.3,1280.2 1279.0,1279.1 1280.7,1277.9 1282.4,1278.9 1284.1,1279.3 1285.8,1280.5 1287.5,1279.6 1289.2,1279.4 1290.9,1280.4 1292.6,1279.6 1294.3,1279.6 1296.0,1281.5 1297.7,1282.0 1299.4,1281.2 1301.1,1280.7 1302.8,1279.5 1304.5,1280.7 1306.2,1280.9 1307.9,1281.1 1309.6,1280.8 1311.3,1281.3 1313.0,1281.7 1314.7,1282.5 1316.4,1284.1 1318.1,1283.8 1319.8,1281.9 1321.5,1282.3 1323.2,1282.3 1324.9,1283.2 1326.6,1285.1 1328.3,1285.8 1330.0,1285.3 1331.7,1286.3 1333.4,1286.0 1335.1,1285.5 1336.8,1285.7 1338.5,1286.6 1340.2,1289.2 1341.9,1287.6 1343.6,1289.3 1345.3,1290.3 1347.0,1288.9 1348.7,1288.6 1350.4,1288.1 1352.1,1288.5 1353.8,1289.3 1355.5,1288.9 1357.2,1289.6 1358.9,1290.1 1360.6,1289.4 1362.3,1289.1 1364.0,1288.7 1365.7,1289.0 1367.4,1287.7 1369.1,1288.7 1370.8,1288.9 1372.5,1287.8 1374.2,1290.2 1375.9,1288.1 1377.6,1287.1 1379.3,1288.1 1381.0,1286.3 1382.7,1286.7 1384.4,1286.3 1386.1,1286.6 1387.8,1287.6 1389.5,1288.5 1391.2,1289.8 1392.9,1290.2 1394.6,1291.1 1396.3,1291.2 1398.0,1290.6 1399.7,1292.3 1401.4,1292.0 1403.1,1292.1 1404.8,1294.7 1406.5,1294.9 1408.2,1294.0 1409.9,1293.9 1411.6,1293.5 1413.3,1290.6 1415.0,1290.2 1416.7,1288.7 1418.4,1288.5 1420.1,1286.8 1421.8,1286.9 1423.5,1284.9 1425.2,1281.1 1426.9,1279.0 1428.6,1274.4 1430.3,1270.6 1432.0,1266.5 1433.7,1261.3 1435.4,1253.9 1437.1,1250.0 1438.8,1246.5 1440.5,1241.3 1442.2,1236.5 1443.9,1227.4 1445.6,1221.8 1447.3,1213.9 1449.0,1207.4 1450.7,1200.8 1452.4,1193.8 1454.1,1184.7 1455.8,1177.8 1457.5,1169.3 1459.2,1161.4 1460.9,1156.9 1462.6,1150.3 1464.3,1141.8 1466.0,1135.9 1467.7,1131.2 1469.4,1127.7 1471.1,1122.7 1472.8,1118.0 1474.5,1111.3 1476.2,1108.7 1477.9,1106.9 1479.6,1104.7 1481.3,1102.4 1483.0,1100.1 1484.7,1101.6 1486.4,1102.9 1488.1,1102.9 1489.8,1103.4 1491.5,1108.3 1493.2,1109.6 1494.9,1114.0 1496.6,1119.5 1498.3,1121.1 1500.0,1127.0 1501.7,1133.1 1503.4,1140.6 1505.1,1147.2 1506.8,1155.9 1508.5,1161.8 1510.2,1167.4 1511.9,1175.4 1513.6,1181.1 1515.3,1187.4 1517.0,1197.4 1518.7,1201.2 1520.4,1206.5 1522.1,1213.3 1523.8,1217.9 1525.5,1221.7 1527.2,1229.8 1528.9,1233.7 1530.6,1237.8 1532.3,1242.3 1534.0,1245.8 1535.7,1249.3 1537.4,1254.0 1539.1,1259.9 1540.8,1261.9 1542.5,1264.2 1544.2,1264.8 1545.9,1268.4 1547.6,1270.7 1549.3,1275.4 1551.0,1278.2 1552.7,1281.2 1554.4,1284.1 1556.1,1286.2 1557.8,1287.6 1559.5,1291.7 1561.2,1292.6 1562.9,1294.3 1564.6,1297.2 1566.3,1298.9 1568.0,1301.5 1569.7,1304.1 1571.4,1305.2 1573.1,1306.4 1574.8,1307.6 1576.5,1309.8 1578.2,1309.0 1579.9,1311.8 1581.6,1312.8 1583.3,1313.6 1585.0,1316.3 1586.7,1317.9 1588.4,1320.2 1590.1,1322.5 1591.8,1320.8 1593.5,1323.2 1595.2,1327.1 1596.9,1327.9 1598.6,1329.4 1600.3,1329.6 1602.0,1329.0 1603.7,1330.5 1605.4,1334.3 1607.1,1336.6 1608.8,1335.8 1610.5,1335.6 1612.2,1335.9 1613.9,1333.8 1615.6,1333.9 1617.3,1335.6 1619.0,1336.2 1620.7,1333.7 1622.4,1334.2 1624.1,1332.0 1625.8,1330.3 1627.5,1328.2 1629.2,1330.0 1630.9,1329.0 1632.6,1330.1 1634.3,1328.2 1636.0,1326.7 1637.7,1324.5 1639.4,1327.2 1641.1,1327.1 1642.8,1327.6 1644.5,1326.7 1646.2,1330.0 1647.9,1331.9 1649.6,1331.5 1651.3,1332.8 1653.0,1334.4 1654.7,1336.1 1656.4,1336.5 1658.1,1338.8 1659.8,1338.6 1661.5,1338.7 1663.2,1339.7 1664.9,1338.4 1666.6,1339.6 1668.3,1341.4 1670.0,1340.1"/>
<polyline fill="none" stroke="#1414ff" stroke-width="2.3" stroke-linejoin="miter" stroke-miterlimit="3" points="955.5,1060.8 957.2,1061.2 958.9,1059.2 960.6,1059.7 962.3,1060.5 964.0,1060.5 965.7,1059.0 967.4,1059.7 969.1,1060.6 970.8,1058.7 972.5,1058.7 974.2,1056.8 975.9,1055.5 977.6,1057.2 979.3,1057.1 981.0,1056.7 982.7,1055.8 984.4,1055.5 986.1,1056.1 987.8,1056.8 989.5,1055.1 991.2,1053.0 992.9,1054.6 994.6,1054.5 996.3,1053.9 998.0,1053.1 999.7,1054.3 1001.4,1052.6 1003.1,1051.7 1004.8,1049.3 1006.5,1049.0 1008.2,1048.3 1009.9,1047.6 1011.6,1046.8 1013.3,1044.5 1015.0,1044.8 1016.7,1041.7 1018.4,1039.9 1020.1,1039.2 1021.8,1036.5 1023.5,1035.8 1025.2,1034.4 1026.9,1031.3 1028.6,1030.1 1030.3,1025.9 1032.0,1022.1 1033.7,1017.8 1035.4,1013.5 1037.1,1010.9 1038.8,1008.3 1040.5,1005.4 1042.2,1004.2 1043.9,1000.0 1045.6,998.4 1047.3,996.2 1049.0,996.3 1050.7,991.8 1052.4,987.0 1054.1,982.7 1055.8,981.6 1057.5,978.8 1059.2,977.1 1060.9,973.4 1062.6,973.3 1064.3,970.7 1066.0,967.1 1067.7,963.9 1069.4,958.4 1071.1,953.4 1072.8,949.6 1074.5,944.5 1076.2,938.4 1077.9,933.2 1079.6,927.5 1081.3,923.2 1083.0,918.5 1084.7,912.6 1086.4,909.8 1088.1,903.3 1089.8,900.0 1091.5,899.1 1093.2,895.1 1094.9,890.7 1096.6,890.8 1098.3,890.3 1100.0,890.2 1101.7,894.4 1103.4,896.8 1105.1,899.5 1106.8,904.8 1108.5,909.7 1110.2,914.0 1111.9,920.5 1113.6,926.5 1115.3,933.7 1117.0,939.6 1118.7,945.4 1120.4,949.3 1122.1,953.0 1123.8,958.0 1125.5,965.3 1127.2,974.3 1128.9,980.6 1130.6,984.7 1132.3,991.3 1134.0,994.9 1135.7,1001.3 1137.4,1005.1 1139.1,1009.6 1140.8,1013.1 1142.5,1015.1 1144.2,1018.3 1145.9,1020.4 1147.6,1024.5 1149.3,1029.8 1151.0,1037.1 1152.7,1038.7 1154.4,1040.6 1156.1,1042.9 1157.8,1047.8 1159.5,1049.3 1161.2,1052.3 1162.9,1056.6 1164.6,1058.2 1166.3,1062.8 1168.0,1065.6 1169.7,1066.4 1171.4,1068.1 1173.1,1069.5 1174.8,1071.0 1176.5,1074.3 1178.2,1076.7 1179.9,1078.1 1181.6,1079.4 1183.3,1080.2 1185.0,1082.2 1186.7,1082.3 1188.4,1084.5 1190.1,1087.6 1191.8,1089.3 1193.5,1089.2 1195.2,1090.2 1196.9,1093.1 1198.6,1095.3 1200.3,1094.0 1202.0,1095.2 1203.7,1097.3 1205.4,1099.4 1207.1,1099.0 1208.8,1100.7 1210.5,1101.4 1212.2,1104.4 1213.9,1104.5 1215.6,1104.4 1217.3,1104.9 1219.0,1106.7 1220.7,1107.5 1222.4,1106.5 1224.1,1107.5 1225.8,1106.9 1227.5,1107.4 1229.2,1107.4 1230.9,1107.6 1232.6,1108.4 1234.3,1108.7 1236.0,1110.1 1237.7,1110.9 1239.4,1110.3 1241.1,1109.4 1242.8,1110.8 1244.5,1108.9 1246.2,1107.9 1247.9,1109.6 1249.6,1109.6 1251.3,1109.0 1253.0,1107.2 1254.7,1105.1 1256.4,1104.6 1258.1,1105.0 1259.8,1103.5 1261.5,1102.8 1263.2,1101.9 1264.9,1101.5 1266.6,1102.9 1268.3,1102.8 1270.0,1101.1 1271.7,1100.4 1273.4,1100.6 1275.1,1101.4 1276.8,1100.1 1278.5,1100.2 1280.2,1098.8 1281.9,1098.9 1283.6,1100.5 1285.3,1101.3 1287.0,1099.8 1288.7,1099.6 1290.4,1101.1 1292.1,1100.6 1293.8,1100.3 1295.5,1101.2 1297.2,1101.4 1298.9,1102.2 1300.6,1102.4 1302.3,1101.5 1304.0,1101.9 1305.7,1102.6 1307.4,1102.1 1309.1,1102.6 1310.8,1105.0 1312.5,1104.0 1314.2,1105.9 1315.9,1106.6 1317.6,1106.4 1319.3,1107.3 1321.0,1107.8 1322.7,1108.7 1324.4,1108.0 1326.1,1108.0 1327.8,1108.4 1329.5,1110.5 1331.2,1110.7 1332.9,1109.2 1334.6,1109.6 1336.3,1109.8 1338.0,1110.7 1339.7,1111.5 1341.4,1113.7 1343.1,1111.3 1344.8,1112.9 1346.5,1113.6 1348.2,1112.8 1349.9,1113.2 1351.6,1113.3 1353.3,1113.8 1355.0,1114.9 1356.7,1113.2 1358.4,1114.9 1360.1,1114.4 1361.8,1115.6 1363.5,1115.2 1365.2,1115.5 1366.9,1115.0 1368.6,1114.8 1370.3,1113.6 1372.0,1112.0 1373.7,1112.5 1375.4,1112.5 1377.1,1113.3 1378.8,1110.1 1380.5,1110.5 1382.2,1112.0 1383.9,1110.5 1385.6,1110.7 1387.3,1112.9 1389.0,1113.0 1390.7,1110.9 1392.4,1112.2 1394.1,1113.0 1395.8,1113.2 1397.5,1113.5 1399.2,1114.1 1400.9,1114.0 1402.6,1114.9 1404.3,1117.4 1406.0,1118.5 1407.7,1120.3 1409.4,1118.9 1411.1,1116.2 1412.8,1116.9 1414.5,1117.4 1416.2,1116.9 1417.9,1115.8 1419.6,1113.9 1421.3,1113.6 1423.0,1109.5 1424.7,1106.7 1426.4,1102.6 1428.1,1097.5 1429.8,1095.2 1431.5,1086.9 1433.2,1081.8 1434.9,1078.1 1436.6,1071.8 1438.3,1066.4 1440.0,1058.7 1441.7,1049.7 1443.4,1043.1 1445.1,1029.0 1446.8,1016.7 1448.5,1005.3 1450.2,995.4 1451.9,987.0 1453.6,976.0 1455.3,963.1 1457.0,949.1 1458.7,937.1 1460.4,920.3 1462.1,908.1 1463.8,896.7 1465.5,884.1 1467.2,874.3 1468.9,862.8 1470.6,852.3 1472.3,847.0 1474.0,838.4 1475.7,831.2 1477.4,823.8 1479.1,818.9 1480.8,814.3 1482.5,810.4 1484.2,807.9 1485.9,805.9 1487.6,806.6 1489.3,808.0 1491.0,806.9 1492.7,811.4 1494.4,818.8 1496.1,825.8 1497.8,830.6 1499.5,838.8 1501.2,847.2 1502.9,853.3 1504.6,864.3 1506.3,876.0 1508.0,886.6 1509.7,897.9 1511.4,914.9 1513.1,926.6 1514.8,938.0 1516.5,951.5 1518.2,965.0 1519.9,981.6 1521.6,993.8 1523.3,1002.9 1525.0,1009.7 1526.7,1014.5 1528.4,1020.8 1530.1,1027.6 1531.8,1031.6 1533.5,1039.4 1535.2,1042.3 1536.9,1045.7 1538.6,1052.1 1540.3,1057.2 1542.0,1061.2 1543.7,1065.8 1545.4,1071.6 1547.1,1077.4 1548.8,1082.5 1550.5,1086.4 1552.2,1091.9 1553.9,1097.6 1555.6,1102.5 1557.3,1103.2 1559.0,1108.2 1560.7,1112.6 1562.4,1116.6 1564.1,1120.3 1565.8,1124.1 1567.5,1126.9 1569.2,1128.9 1570.9,1131.5 1572.6,1135.8 1574.3,1136.7 1576.0,1139.3 1577.7,1143.0 1579.4,1144.7 1581.1,1144.5 1582.8,1148.2 1584.5,1150.4 1586.2,1152.6 1587.9,1155.7 1589.6,1157.5 1591.3,1158.8 1593.0,1161.8 1594.7,1164.2 1596.4,1166.7 1598.1,1169.9 1599.8,1172.8 1601.5,1174.8 1603.2,1176.5 1604.9,1178.6 1606.6,1179.5 1608.3,1180.5 1610.0,1184.2 1611.7,1185.3 1613.4,1186.6 1615.1,1187.9 1616.8,1188.9 1618.5,1189.5 1620.2,1190.2 1621.9,1190.0 1623.6,1191.5 1625.3,1190.9 1627.0,1191.9 1628.7,1189.4 1630.4,1188.5 1632.1,1189.7 1633.8,1188.9 1635.5,1188.2 1637.2,1189.1 1638.9,1188.4 1640.6,1189.2 1642.3,1187.9 1644.0,1188.9 1645.7,1189.3 1647.4,1190.3 1649.1,1190.9 1650.8,1189.5 1652.5,1191.1 1654.2,1190.0 1655.9,1188.1 1657.6,1187.5 1659.3,1190.6 1661.0,1190.4 1662.7,1189.7 1664.4,1189.7 1666.1,1189.7 1667.8,1192.0 1669.5,1191.9"/>
<rect x="955.1" y="758.7" width="716.8000000000001" height="603.7" fill="none" stroke="#2a2a2a" stroke-width="3.3"/>
<line x1="1026.8" y1="758.7" x2="1026.8" y2="765.7" stroke="#2a2a2a" stroke-width="2.2" />
<line x1="1664.9" y1="819.1" x2="1671.9" y2="819.1" stroke="#2a2a2a" stroke-width="2.2" />
<line x1="1098.5" y1="758.7" x2="1098.5" y2="771.2" stroke="#2a2a2a" stroke-width="2.2" />
<line x1="1659.4" y1="879.4" x2="1671.9" y2="879.4" stroke="#2a2a2a" stroke-width="2.2" />
<line x1="1170.1" y1="758.7" x2="1170.1" y2="765.7" stroke="#2a2a2a" stroke-width="2.2" />
<line x1="1664.9" y1="939.8" x2="1671.9" y2="939.8" stroke="#2a2a2a" stroke-width="2.2" />
<line x1="1241.8" y1="758.7" x2="1241.8" y2="771.2" stroke="#2a2a2a" stroke-width="2.2" />
<line x1="1659.4" y1="1000.2" x2="1671.9" y2="1000.2" stroke="#2a2a2a" stroke-width="2.2" />
<line x1="1313.5" y1="758.7" x2="1313.5" y2="765.7" stroke="#2a2a2a" stroke-width="2.2" />
<line x1="1664.9" y1="1060.6" x2="1671.9" y2="1060.6" stroke="#2a2a2a" stroke-width="2.2" />
<line x1="1385.2" y1="758.7" x2="1385.2" y2="771.2" stroke="#2a2a2a" stroke-width="2.2" />
<line x1="1659.4" y1="1120.9" x2="1671.9" y2="1120.9" stroke="#2a2a2a" stroke-width="2.2" />
<line x1="1456.9" y1="758.7" x2="1456.9" y2="765.7" stroke="#2a2a2a" stroke-width="2.2" />
<line x1="1664.9" y1="1181.3" x2="1671.9" y2="1181.3" stroke="#2a2a2a" stroke-width="2.2" />
<line x1="1528.5" y1="758.7" x2="1528.5" y2="771.2" stroke="#2a2a2a" stroke-width="2.2" />
<line x1="1659.4" y1="1241.7" x2="1671.9" y2="1241.7" stroke="#2a2a2a" stroke-width="2.2" />
<line x1="1600.2" y1="758.7" x2="1600.2" y2="765.7" stroke="#2a2a2a" stroke-width="2.2" />
<line x1="1664.9" y1="1302.0" x2="1671.9" y2="1302.0" stroke="#2a2a2a" stroke-width="2.2" />
<line x1="942.1" y1="775.5" x2="955.1" y2="775.5" stroke="#2a2a2a" stroke-width="2.4" />
<line x1="948.1" y1="882.6" x2="955.1" y2="882.6" stroke="#2a2a2a" stroke-width="2.4" />
<line x1="942.1" y1="989.7" x2="955.1" y2="989.7" stroke="#2a2a2a" stroke-width="2.4" />
<line x1="948.1" y1="1096.5" x2="955.1" y2="1096.5" stroke="#2a2a2a" stroke-width="2.4" />
<line x1="942.1" y1="1203.6" x2="955.1" y2="1203.6" stroke="#2a2a2a" stroke-width="2.4" />
<line x1="948.1" y1="1310.0" x2="955.1" y2="1310.0" stroke="#2a2a2a" stroke-width="2.4" />
<line x1="955.1" y1="1362.4" x2="955.1" y2="1375.9" stroke="#2a2a2a" stroke-width="2.4" />
<text x="954.0" y="1406.3" font-size="33.6" text-anchor="middle" textLength="68.6" lengthAdjust="spacingAndGlyphs" class="m t">1120</text>
<line x1="1026.8" y1="1362.4" x2="1026.8" y2="1369.4" stroke="#2a2a2a" stroke-width="2.4" />
<line x1="1098.5" y1="1362.4" x2="1098.5" y2="1375.9" stroke="#2a2a2a" stroke-width="2.4" />
<text x="1097.4" y="1406.3" font-size="33.6" text-anchor="middle" textLength="68.6" lengthAdjust="spacingAndGlyphs" class="m t">1110</text>
<line x1="1170.1" y1="1362.4" x2="1170.1" y2="1369.4" stroke="#2a2a2a" stroke-width="2.4" />
<line x1="1241.8" y1="1362.4" x2="1241.8" y2="1375.9" stroke="#2a2a2a" stroke-width="2.4" />
<text x="1240.7" y="1406.3" font-size="33.6" text-anchor="middle" textLength="68.6" lengthAdjust="spacingAndGlyphs" class="m t">1100</text>
<line x1="1313.5" y1="1362.4" x2="1313.5" y2="1369.4" stroke="#2a2a2a" stroke-width="2.4" />
<line x1="1385.2" y1="1362.4" x2="1385.2" y2="1375.9" stroke="#2a2a2a" stroke-width="2.4" />
<text x="1384.1" y="1406.3" font-size="33.6" text-anchor="middle" textLength="68.6" lengthAdjust="spacingAndGlyphs" class="m t">1090</text>
<line x1="1456.9" y1="1362.4" x2="1456.9" y2="1369.4" stroke="#2a2a2a" stroke-width="2.4" />
<line x1="1528.5" y1="1362.4" x2="1528.5" y2="1375.9" stroke="#2a2a2a" stroke-width="2.4" />
<text x="1527.4" y="1406.3" font-size="33.6" text-anchor="middle" textLength="68.6" lengthAdjust="spacingAndGlyphs" class="m t">1080</text>
<line x1="1600.2" y1="1362.4" x2="1600.2" y2="1369.4" stroke="#2a2a2a" stroke-width="2.4" />
<line x1="1671.9" y1="1362.4" x2="1671.9" y2="1375.9" stroke="#2a2a2a" stroke-width="2.4" />
<text x="1670.8" y="1406.3" font-size="33.6" text-anchor="middle" textLength="68.6" lengthAdjust="spacingAndGlyphs" class="m t">1070</text>
<line x1="912.3" y1="763.7" x2="912.3" y2="971.2" stroke="#2079d2" stroke-width="5" />
<line x1="883.7" y1="763.7" x2="940.7" y2="763.7" stroke="#2079d2" stroke-width="5.5" />
<line x1="888.4" y1="971.2" x2="945.1" y2="971.2" stroke="#2079d2" stroke-width="5.5" />
<text transform="translate(895.3 928.8) rotate(-90)" font-size="44">2x10<tspan font-size="32" dy="-12" dx="1.5">4</tspan></text>
<text transform="translate(934.5 1094.0) rotate(-90)" font-size="33" textLength="70.0" lengthAdjust="spacing">CPS</text>
<text x="962.2" y="795.3" font-size="31.6" text-anchor="start" textLength="83.5" lengthAdjust="spacingAndGlyphs" class="m">Sm3d</text>
<line x1="1183.5" y1="783.5" x2="1246.0" y2="783.5" stroke="#0a0a0a" stroke-width="2.4" />
<text x="1252.3" y="792.0" font-size="28" text-anchor="start" textLength="177.5" lengthAdjust="spacingAndGlyphs">Ni/Ce-Sm-5Cu</text>
<line x1="1183.5" y1="818.5" x2="1246.0" y2="818.5" stroke="#ff0a0a" stroke-width="2.4" />
<text x="1252.3" y="827.0" font-size="28" text-anchor="start" textLength="177.5" lengthAdjust="spacingAndGlyphs">Ni/Ce-Sm-7Cu</text>
<line x1="1183.5" y1="854.0" x2="1246.0" y2="854.0" stroke="#1414ff" stroke-width="2.4" />
<text x="1252.3" y="862.8" font-size="28" text-anchor="start" textLength="191.5" lengthAdjust="spacingAndGlyphs">Ni/Ce-Sm-10Cu</text>
<text x="1271.2" y="909.0" font-size="31.8" text-anchor="start" textLength="127.0" lengthAdjust="spacingAndGlyphs">calcined</text>
<text x="1576.3" y="1136.5" font-size="74.2" text-anchor="start">(d)</text>
<text x="1173.1" y="1450.8" font-size="32.2" text-anchor="start" textLength="303.0" lengthAdjust="spacingAndGlyphs">Binding Energy (eV)</text>
</svg>
</body>
</html>
